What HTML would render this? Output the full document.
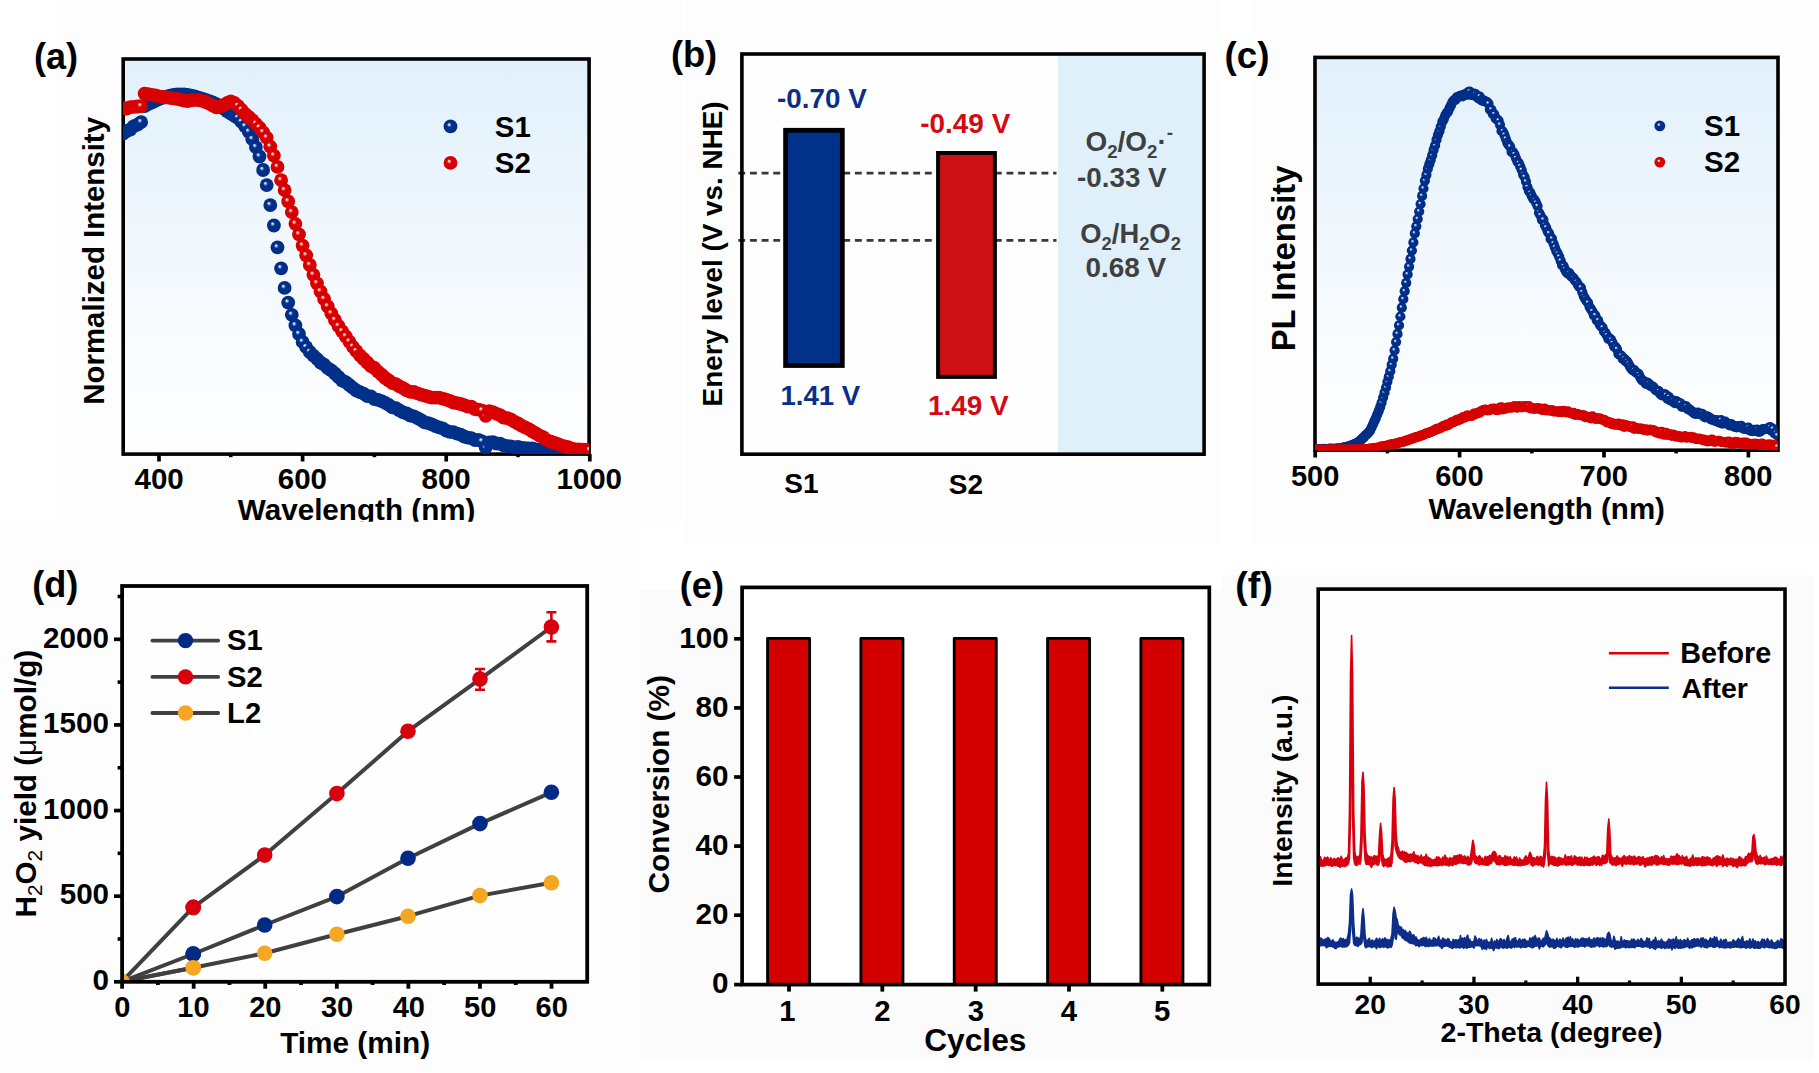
<!DOCTYPE html>
<html><head><meta charset="utf-8"><title>Figure</title>
<style>
html,body{margin:0;padding:0;background:#fff;}
body{width:1819px;height:1073px;overflow:hidden;font-family:"Liberation Sans",sans-serif;}
svg{display:block;font-family:"Liberation Sans",sans-serif;}
</style></head><body>
<svg width="1819" height="1073" viewBox="0 0 1819 1073">
<defs>
<linearGradient id="bgA" x1="0" y1="0" x2="0" y2="1"><stop offset="0" stop-color="#e2f0fb"/><stop offset="0.25" stop-color="#e9f4fc"/><stop offset="0.5" stop-color="#f2f8fd"/><stop offset="0.75" stop-color="#f9fcfe"/><stop offset="1" stop-color="#fefefe"/></linearGradient>
<radialGradient id="sB" cx="0.5" cy="0.5" r="0.5" fx="0.38" fy="0.35"><stop offset="0" stop-color="#ffffff"/><stop offset="0.1" stop-color="#c3cde8"/><stop offset="0.34" stop-color="#01318c"/><stop offset="1" stop-color="#002c84"/></radialGradient>
<radialGradient id="sR" cx="0.5" cy="0.5" r="0.5" fx="0.38" fy="0.35"><stop offset="0" stop-color="#ffffff"/><stop offset="0.1" stop-color="#f8c4c4"/><stop offset="0.34" stop-color="#db0003"/><stop offset="1" stop-color="#d40000"/></radialGradient>
<circle id="dB" r="6.9" fill="url(#sB)"/>
<circle id="dR" r="6.9" fill="url(#sR)"/>
<circle id="cB" r="5.1" fill="url(#sB)"/>
<circle id="cR" r="5.1" fill="url(#sR)"/>
<clipPath id="clipA"><rect x="123.2" y="59" width="465.9" height="395.1"/></clipPath>
<clipPath id="clipTop"><rect x="0" y="0" width="1819" height="521.8"/></clipPath>
<clipPath id="clipC"><rect x="1315.0" y="57.4" width="463.0" height="392.8"/></clipPath>
<clipPath id="clipF"><rect x="1318" y="589" width="467" height="395"/></clipPath>
</defs>
<rect x="0.00" y="0.00" width="1819.00" height="1073.00" fill="#ffffff" stroke="none" stroke-width="0" />
<rect x="56.00" y="0.00" width="625.50" height="522.50" fill="#fdfdfd" stroke="none" stroke-width="0" />
<rect x="684.50" y="0.00" width="535.50" height="545.60" fill="#fdfdfd" stroke="none" stroke-width="0" />
<rect x="1253.00" y="0.00" width="566.00" height="545.60" fill="#fdfdfd" stroke="none" stroke-width="0" />
<rect x="0.00" y="522.50" width="641.00" height="551.00" fill="#fdfdfd" stroke="none" stroke-width="0" />
<rect x="641.00" y="590.00" width="580.00" height="470.00" fill="#fbfbfb" stroke="none" stroke-width="0" />
<rect x="1222.00" y="575.00" width="592.00" height="485.00" fill="#fbfbfb" stroke="none" stroke-width="0" />
<rect x="123.20" y="59.00" width="465.90" height="395.10" fill="url(#bgA)" stroke="none" stroke-width="0" />
<rect x="123.20" y="59.00" width="465.90" height="395.10" fill="none" stroke="#000" stroke-width="3.6" />
<g clip-path="url(#clipA)">
<circle cx="123.1" cy="133.7" r="6.9" fill="#01308a"/>
<circle cx="126.7" cy="131.1" r="6.9" fill="#01308a"/>
<circle cx="130.3" cy="129.5" r="6.9" fill="#01308a"/>
<circle cx="133.9" cy="126.2" r="6.9" fill="#01308a"/>
<circle cx="137.5" cy="124.6" r="6.9" fill="#01308a"/>
<use href="#dB" x="141.1" y="122.2"/>
<use href="#dB" x="144.6" y="106.0"/>
<circle cx="148.2" cy="104.0" r="6.9" fill="#01308a"/>
<circle cx="151.8" cy="102.6" r="6.9" fill="#01308a"/>
<circle cx="155.4" cy="100.8" r="6.9" fill="#01308a"/>
<circle cx="159.0" cy="99.2" r="6.9" fill="#01308a"/>
<circle cx="162.6" cy="97.8" r="6.9" fill="#01308a"/>
<circle cx="166.2" cy="96.6" r="6.9" fill="#01308a"/>
<circle cx="169.8" cy="95.6" r="6.9" fill="#01308a"/>
<circle cx="173.4" cy="94.9" r="6.9" fill="#01308a"/>
<circle cx="176.9" cy="94.5" r="6.9" fill="#01308a"/>
<circle cx="180.5" cy="94.3" r="6.9" fill="#01308a"/>
<circle cx="184.1" cy="94.5" r="6.9" fill="#01308a"/>
<circle cx="187.7" cy="95.0" r="6.9" fill="#01308a"/>
<circle cx="191.3" cy="95.7" r="6.9" fill="#01308a"/>
<circle cx="194.9" cy="96.5" r="6.9" fill="#01308a"/>
<circle cx="198.5" cy="97.6" r="6.9" fill="#01308a"/>
<circle cx="202.1" cy="98.7" r="6.9" fill="#01308a"/>
<circle cx="205.7" cy="99.9" r="6.9" fill="#01308a"/>
<circle cx="209.3" cy="101.1" r="6.9" fill="#01308a"/>
<circle cx="212.8" cy="102.4" r="6.9" fill="#01308a"/>
<circle cx="216.4" cy="104.2" r="6.9" fill="#01308a"/>
<circle cx="220.0" cy="106.0" r="6.9" fill="#01308a"/>
<circle cx="223.6" cy="108.7" r="6.9" fill="#01308a"/>
<circle cx="227.2" cy="111.3" r="6.9" fill="#01308a"/>
<circle cx="230.8" cy="113.6" r="6.9" fill="#01308a"/>
<circle cx="234.4" cy="115.8" r="6.9" fill="#01308a"/>
<use href="#dB" x="238.0" y="118.0"/>
<use href="#dB" x="241.6" y="121.9"/>
<use href="#dB" x="245.2" y="126.4"/>
<use href="#dB" x="248.8" y="131.8"/>
<use href="#dB" x="252.3" y="139.2"/>
<use href="#dB" x="255.9" y="147.1"/>
<use href="#dB" x="259.5" y="156.5"/>
<use href="#dB" x="263.1" y="170.0"/>
<use href="#dB" x="266.7" y="185.1"/>
<use href="#dB" x="270.3" y="205.1"/>
<use href="#dB" x="273.9" y="225.5"/>
<use href="#dB" x="277.5" y="247.4"/>
<use href="#dB" x="281.1" y="268.3"/>
<use href="#dB" x="284.6" y="287.9"/>
<use href="#dB" x="288.2" y="302.6"/>
<use href="#dB" x="291.8" y="314.8"/>
<use href="#dB" x="295.4" y="325.4"/>
<use href="#dB" x="299.0" y="334.0"/>
<use href="#dB" x="302.6" y="341.9"/>
<use href="#dB" x="306.2" y="347.2"/>
<use href="#dB" x="309.8" y="352.0"/>
<circle cx="313.4" cy="355.7" r="6.9" fill="#01308a"/>
<circle cx="317.0" cy="358.8" r="6.9" fill="#01308a"/>
<circle cx="320.5" cy="362.5" r="6.9" fill="#01308a"/>
<circle cx="324.1" cy="364.6" r="6.9" fill="#01308a"/>
<circle cx="327.7" cy="368.1" r="6.9" fill="#01308a"/>
<circle cx="331.3" cy="370.4" r="6.9" fill="#01308a"/>
<circle cx="334.9" cy="373.5" r="6.9" fill="#01308a"/>
<circle cx="338.5" cy="377.0" r="6.9" fill="#01308a"/>
<circle cx="342.1" cy="380.5" r="6.9" fill="#01308a"/>
<circle cx="345.7" cy="382.1" r="6.9" fill="#01308a"/>
<circle cx="349.3" cy="385.0" r="6.9" fill="#01308a"/>
<circle cx="352.9" cy="387.9" r="6.9" fill="#01308a"/>
<circle cx="356.4" cy="390.5" r="6.9" fill="#01308a"/>
<circle cx="360.0" cy="392.1" r="6.9" fill="#01308a"/>
<circle cx="363.6" cy="393.6" r="6.9" fill="#01308a"/>
<circle cx="367.2" cy="396.2" r="6.9" fill="#01308a"/>
<circle cx="370.8" cy="396.4" r="6.9" fill="#01308a"/>
<circle cx="374.4" cy="399.2" r="6.9" fill="#01308a"/>
<circle cx="378.0" cy="399.9" r="6.9" fill="#01308a"/>
<circle cx="381.6" cy="401.2" r="6.9" fill="#01308a"/>
<circle cx="385.2" cy="402.8" r="6.9" fill="#01308a"/>
<circle cx="388.8" cy="404.9" r="6.9" fill="#01308a"/>
<circle cx="392.4" cy="407.4" r="6.9" fill="#01308a"/>
<circle cx="395.9" cy="408.1" r="6.9" fill="#01308a"/>
<circle cx="399.5" cy="410.4" r="6.9" fill="#01308a"/>
<circle cx="403.1" cy="412.3" r="6.9" fill="#01308a"/>
<circle cx="406.7" cy="413.5" r="6.9" fill="#01308a"/>
<circle cx="410.3" cy="415.5" r="6.9" fill="#01308a"/>
<circle cx="413.9" cy="416.4" r="6.9" fill="#01308a"/>
<circle cx="417.5" cy="418.1" r="6.9" fill="#01308a"/>
<circle cx="421.1" cy="420.1" r="6.9" fill="#01308a"/>
<circle cx="424.7" cy="422.3" r="6.9" fill="#01308a"/>
<circle cx="428.2" cy="423.2" r="6.9" fill="#01308a"/>
<circle cx="431.8" cy="424.4" r="6.9" fill="#01308a"/>
<circle cx="435.4" cy="426.2" r="6.9" fill="#01308a"/>
<circle cx="439.0" cy="427.3" r="6.9" fill="#01308a"/>
<circle cx="442.6" cy="428.4" r="6.9" fill="#01308a"/>
<circle cx="446.2" cy="430.6" r="6.9" fill="#01308a"/>
<circle cx="449.8" cy="431.8" r="6.9" fill="#01308a"/>
<circle cx="453.4" cy="432.1" r="6.9" fill="#01308a"/>
<circle cx="457.0" cy="433.7" r="6.9" fill="#01308a"/>
<circle cx="460.6" cy="434.6" r="6.9" fill="#01308a"/>
<circle cx="464.1" cy="436.5" r="6.9" fill="#01308a"/>
<circle cx="467.7" cy="437.6" r="6.9" fill="#01308a"/>
<circle cx="471.3" cy="438.1" r="6.9" fill="#01308a"/>
<circle cx="474.9" cy="440.2" r="6.9" fill="#01308a"/>
<circle cx="478.5" cy="439.8" r="6.9" fill="#01308a"/>
<use href="#dB" x="482.1" y="441.4"/>
<use href="#dB" x="485.7" y="447.7"/>
<circle cx="489.3" cy="442.4" r="6.9" fill="#01308a"/>
<circle cx="492.9" cy="442.2" r="6.9" fill="#01308a"/>
<circle cx="496.5" cy="443.5" r="6.9" fill="#01308a"/>
<circle cx="500.1" cy="443.6" r="6.9" fill="#01308a"/>
<circle cx="503.6" cy="445.3" r="6.9" fill="#01308a"/>
<circle cx="507.2" cy="446.1" r="6.9" fill="#01308a"/>
<circle cx="510.8" cy="446.4" r="6.9" fill="#01308a"/>
<circle cx="514.4" cy="447.4" r="6.9" fill="#01308a"/>
<circle cx="518.0" cy="446.9" r="6.9" fill="#01308a"/>
<circle cx="521.6" cy="448.0" r="6.9" fill="#01308a"/>
<circle cx="525.2" cy="448.1" r="6.9" fill="#01308a"/>
<circle cx="528.8" cy="448.4" r="6.9" fill="#01308a"/>
<circle cx="532.4" cy="448.5" r="6.9" fill="#01308a"/>
<circle cx="536.0" cy="449.4" r="6.9" fill="#01308a"/>
<circle cx="539.5" cy="449.9" r="6.9" fill="#01308a"/>
<circle cx="543.1" cy="449.5" r="6.9" fill="#01308a"/>
<circle cx="546.7" cy="450.2" r="6.9" fill="#01308a"/>
<circle cx="550.3" cy="449.9" r="6.9" fill="#01308a"/>
<circle cx="553.9" cy="450.7" r="6.9" fill="#01308a"/>
<circle cx="557.5" cy="450.9" r="6.9" fill="#01308a"/>
<circle cx="561.1" cy="451.4" r="6.9" fill="#01308a"/>
<circle cx="564.7" cy="451.4" r="6.9" fill="#01308a"/>
<circle cx="568.3" cy="451.2" r="6.9" fill="#01308a"/>
<circle cx="571.8" cy="451.5" r="6.9" fill="#01308a"/>
<circle cx="575.4" cy="451.9" r="6.9" fill="#01308a"/>
<circle cx="579.0" cy="451.6" r="6.9" fill="#01308a"/>
<circle cx="582.6" cy="452.1" r="6.9" fill="#01308a"/>
<circle cx="586.2" cy="452.1" r="6.9" fill="#01308a"/>
<use href="#dB" x="589.8" y="452.2"/>
<circle cx="123.1" cy="108.0" r="6.9" fill="#d90002"/>
<circle cx="126.7" cy="108.6" r="6.9" fill="#d90002"/>
<circle cx="130.3" cy="107.1" r="6.9" fill="#d90002"/>
<circle cx="133.9" cy="106.8" r="6.9" fill="#d90002"/>
<circle cx="137.5" cy="106.5" r="6.9" fill="#d90002"/>
<use href="#dR" x="141.1" y="106.2"/>
<use href="#dR" x="144.6" y="93.6"/>
<circle cx="148.2" cy="94.1" r="6.9" fill="#d90002"/>
<circle cx="151.8" cy="94.8" r="6.9" fill="#d90002"/>
<circle cx="155.4" cy="95.5" r="6.9" fill="#d90002"/>
<circle cx="159.0" cy="96.3" r="6.9" fill="#d90002"/>
<circle cx="162.6" cy="96.9" r="6.9" fill="#d90002"/>
<circle cx="166.2" cy="97.3" r="6.9" fill="#d90002"/>
<circle cx="169.8" cy="97.8" r="6.9" fill="#d90002"/>
<circle cx="173.4" cy="98.3" r="6.9" fill="#d90002"/>
<circle cx="176.9" cy="98.9" r="6.9" fill="#d90002"/>
<circle cx="180.5" cy="99.7" r="6.9" fill="#d90002"/>
<circle cx="184.1" cy="100.5" r="6.9" fill="#d90002"/>
<circle cx="187.7" cy="101.0" r="6.9" fill="#d90002"/>
<circle cx="191.3" cy="100.4" r="6.9" fill="#d90002"/>
<circle cx="194.9" cy="99.9" r="6.9" fill="#d90002"/>
<circle cx="198.5" cy="100.1" r="6.9" fill="#d90002"/>
<circle cx="202.1" cy="100.8" r="6.9" fill="#d90002"/>
<circle cx="205.7" cy="102.0" r="6.9" fill="#d90002"/>
<circle cx="209.3" cy="103.6" r="6.9" fill="#d90002"/>
<circle cx="212.8" cy="105.7" r="6.9" fill="#d90002"/>
<circle cx="216.4" cy="107.4" r="6.9" fill="#d90002"/>
<circle cx="220.0" cy="106.6" r="6.9" fill="#d90002"/>
<circle cx="223.6" cy="105.0" r="6.9" fill="#d90002"/>
<circle cx="227.2" cy="103.0" r="6.9" fill="#d90002"/>
<circle cx="230.8" cy="101.4" r="6.9" fill="#d90002"/>
<circle cx="234.4" cy="102.9" r="6.9" fill="#d90002"/>
<use href="#dR" x="238.0" y="105.9"/>
<use href="#dR" x="241.6" y="109.8"/>
<circle cx="245.2" cy="113.9" r="6.9" fill="#d90002"/>
<circle cx="248.8" cy="117.0" r="6.9" fill="#d90002"/>
<circle cx="252.3" cy="120.1" r="6.9" fill="#d90002"/>
<use href="#dR" x="255.9" y="123.8"/>
<use href="#dR" x="259.5" y="127.7"/>
<use href="#dR" x="263.1" y="132.3"/>
<use href="#dR" x="266.7" y="137.6"/>
<use href="#dR" x="270.3" y="146.6"/>
<use href="#dR" x="273.9" y="155.6"/>
<use href="#dR" x="277.5" y="166.9"/>
<use href="#dR" x="281.1" y="180.2"/>
<use href="#dR" x="284.6" y="190.1"/>
<use href="#dR" x="288.2" y="201.4"/>
<use href="#dR" x="291.8" y="212.1"/>
<use href="#dR" x="295.4" y="223.8"/>
<use href="#dR" x="299.0" y="234.4"/>
<use href="#dR" x="302.6" y="245.6"/>
<use href="#dR" x="306.2" y="255.3"/>
<use href="#dR" x="309.8" y="265.0"/>
<use href="#dR" x="313.4" y="274.8"/>
<use href="#dR" x="317.0" y="283.3"/>
<use href="#dR" x="320.5" y="291.4"/>
<use href="#dR" x="324.1" y="299.0"/>
<use href="#dR" x="327.7" y="306.4"/>
<use href="#dR" x="331.3" y="313.4"/>
<use href="#dR" x="334.9" y="320.0"/>
<use href="#dR" x="338.5" y="326.0"/>
<use href="#dR" x="342.1" y="331.3"/>
<use href="#dR" x="345.7" y="336.3"/>
<use href="#dR" x="349.3" y="341.6"/>
<use href="#dR" x="352.9" y="346.8"/>
<use href="#dR" x="356.4" y="351.2"/>
<circle cx="360.0" cy="355.3" r="6.9" fill="#d90002"/>
<circle cx="363.6" cy="359.0" r="6.9" fill="#d90002"/>
<circle cx="367.2" cy="362.5" r="6.9" fill="#d90002"/>
<circle cx="370.8" cy="366.2" r="6.9" fill="#d90002"/>
<circle cx="374.4" cy="368.0" r="6.9" fill="#d90002"/>
<circle cx="378.0" cy="371.6" r="6.9" fill="#d90002"/>
<circle cx="381.6" cy="374.7" r="6.9" fill="#d90002"/>
<circle cx="385.2" cy="378.0" r="6.9" fill="#d90002"/>
<circle cx="388.8" cy="380.5" r="6.9" fill="#d90002"/>
<circle cx="392.4" cy="383.2" r="6.9" fill="#d90002"/>
<circle cx="395.9" cy="384.2" r="6.9" fill="#d90002"/>
<circle cx="399.5" cy="386.4" r="6.9" fill="#d90002"/>
<circle cx="403.1" cy="388.1" r="6.9" fill="#d90002"/>
<circle cx="406.7" cy="390.4" r="6.9" fill="#d90002"/>
<circle cx="410.3" cy="391.9" r="6.9" fill="#d90002"/>
<circle cx="413.9" cy="392.0" r="6.9" fill="#d90002"/>
<circle cx="417.5" cy="393.3" r="6.9" fill="#d90002"/>
<circle cx="421.1" cy="394.7" r="6.9" fill="#d90002"/>
<circle cx="424.7" cy="395.6" r="6.9" fill="#d90002"/>
<circle cx="428.2" cy="396.7" r="6.9" fill="#d90002"/>
<circle cx="431.8" cy="397.6" r="6.9" fill="#d90002"/>
<circle cx="435.4" cy="397.6" r="6.9" fill="#d90002"/>
<circle cx="439.0" cy="397.6" r="6.9" fill="#d90002"/>
<circle cx="442.6" cy="398.7" r="6.9" fill="#d90002"/>
<circle cx="446.2" cy="399.6" r="6.9" fill="#d90002"/>
<circle cx="449.8" cy="400.9" r="6.9" fill="#d90002"/>
<circle cx="453.4" cy="402.5" r="6.9" fill="#d90002"/>
<circle cx="457.0" cy="403.2" r="6.9" fill="#d90002"/>
<circle cx="460.6" cy="404.0" r="6.9" fill="#d90002"/>
<circle cx="464.1" cy="405.2" r="6.9" fill="#d90002"/>
<circle cx="467.7" cy="406.5" r="6.9" fill="#d90002"/>
<circle cx="471.3" cy="406.7" r="6.9" fill="#d90002"/>
<circle cx="474.9" cy="409.1" r="6.9" fill="#d90002"/>
<circle cx="478.5" cy="409.7" r="6.9" fill="#d90002"/>
<use href="#dR" x="482.1" y="410.6"/>
<use href="#dR" x="485.7" y="415.8"/>
<circle cx="489.3" cy="411.1" r="6.9" fill="#d90002"/>
<circle cx="492.9" cy="412.2" r="6.9" fill="#d90002"/>
<circle cx="496.5" cy="413.9" r="6.9" fill="#d90002"/>
<circle cx="500.1" cy="415.2" r="6.9" fill="#d90002"/>
<circle cx="503.6" cy="417.6" r="6.9" fill="#d90002"/>
<circle cx="507.2" cy="418.1" r="6.9" fill="#d90002"/>
<circle cx="510.8" cy="419.5" r="6.9" fill="#d90002"/>
<circle cx="514.4" cy="421.6" r="6.9" fill="#d90002"/>
<circle cx="518.0" cy="423.5" r="6.9" fill="#d90002"/>
<circle cx="521.6" cy="425.7" r="6.9" fill="#d90002"/>
<circle cx="525.2" cy="427.3" r="6.9" fill="#d90002"/>
<circle cx="528.8" cy="429.2" r="6.9" fill="#d90002"/>
<circle cx="532.4" cy="431.4" r="6.9" fill="#d90002"/>
<circle cx="536.0" cy="433.3" r="6.9" fill="#d90002"/>
<circle cx="539.5" cy="435.7" r="6.9" fill="#d90002"/>
<circle cx="543.1" cy="437.1" r="6.9" fill="#d90002"/>
<circle cx="546.7" cy="440.2" r="6.9" fill="#d90002"/>
<circle cx="550.3" cy="441.5" r="6.9" fill="#d90002"/>
<circle cx="553.9" cy="442.7" r="6.9" fill="#d90002"/>
<circle cx="557.5" cy="444.0" r="6.9" fill="#d90002"/>
<circle cx="561.1" cy="445.4" r="6.9" fill="#d90002"/>
<circle cx="564.7" cy="446.5" r="6.9" fill="#d90002"/>
<circle cx="568.3" cy="447.2" r="6.9" fill="#d90002"/>
<circle cx="571.8" cy="448.7" r="6.9" fill="#d90002"/>
<circle cx="575.4" cy="449.4" r="6.9" fill="#d90002"/>
<circle cx="579.0" cy="449.3" r="6.9" fill="#d90002"/>
<circle cx="582.6" cy="449.7" r="6.9" fill="#d90002"/>
<circle cx="586.2" cy="449.8" r="6.9" fill="#d90002"/>
<use href="#dR" x="589.8" y="450.2"/>
</g>
<line x1="159.00" y1="454.10" x2="159.00" y2="461.50" stroke="#000" stroke-width="3.7" />
<line x1="302.60" y1="454.10" x2="302.60" y2="461.50" stroke="#000" stroke-width="3.7" />
<line x1="446.20" y1="454.10" x2="446.20" y2="461.50" stroke="#000" stroke-width="3.7" />
<line x1="589.80" y1="454.10" x2="589.80" y2="461.50" stroke="#000" stroke-width="3.7" />
<line x1="230.80" y1="454.10" x2="230.80" y2="457.20" stroke="#000" stroke-width="3.6" />
<line x1="374.40" y1="454.10" x2="374.40" y2="457.20" stroke="#000" stroke-width="3.6" />
<line x1="518.00" y1="454.10" x2="518.00" y2="457.20" stroke="#000" stroke-width="3.6" />
<g clip-path="url(#clipTop)">
<text x="134.51" y="489.38" font-size="29.50" font-weight="bold" fill="#000">400</text>
<text x="277.81" y="489.38" font-size="29.50" font-weight="bold" fill="#000">600</text>
<text x="421.49" y="489.38" font-size="29.50" font-weight="bold" fill="#000">800</text>
<text x="556.39" y="489.38" font-size="29.50" font-weight="bold" fill="#000">1000</text>
<text x="237.80" y="519.73" font-size="29.65" font-weight="bold" fill="#000">Wavelength (nm)</text>
</g>
<text transform="translate(103.60,404.71) rotate(-90)" font-size="29.43" font-weight="bold" fill="#000">Normalized Intensity</text>
<text x="34.00" y="69.30" font-size="36.00" font-weight="bold" fill="#000">(a)</text>
<use href="#dB" x="450.5" y="126.4"/><use href="#dR" x="450.5" y="162.9"/>
<text x="494.72" y="137.08" font-size="29.50" font-weight="bold" fill="#000">S1</text>
<text x="494.72" y="173.18" font-size="29.50" font-weight="bold" fill="#000">S2</text>
<rect x="741.90" y="54.00" width="462.20" height="400.20" fill="#fefefe" stroke="none" stroke-width="0" />
<rect x="1057.90" y="54.00" width="146.20" height="400.20" fill="#e0f0fb" stroke="none" stroke-width="0" />
<line x1="738.30" y1="173.10" x2="1056.50" y2="173.10" stroke="#383838" stroke-width="2.8" stroke-dasharray="6.9 4.76"/>
<line x1="738.30" y1="240.40" x2="1056.50" y2="240.40" stroke="#383838" stroke-width="2.8" stroke-dasharray="6.9 4.76"/>
<rect x="785.60" y="130.30" width="56.70" height="235.20" fill="#01328a" stroke="#000" stroke-width="4.8" />
<rect x="938.10" y="153.00" width="56.80" height="223.90" fill="#cd1013" stroke="#000" stroke-width="4.0" />
<rect x="741.90" y="54.00" width="462.20" height="400.20" fill="none" stroke="#000" stroke-width="3.6" />
<text x="776.99" y="108.41" font-size="27.84" font-weight="bold" fill="#0b2f88">-0.70 V</text>
<text x="780.44" y="405.23" font-size="27.61" font-weight="bold" fill="#0b2f88">1.41 V</text>
<text x="920.28" y="133.03" font-size="27.91" font-weight="bold" fill="#d40a12">-0.49 V</text>
<text x="927.92" y="414.75" font-size="27.96" font-weight="bold" fill="#d40a12">1.49 V</text>
<text x="1077.09" y="186.57" font-size="27.75" font-weight="bold" fill="#404040">-0.33 V</text>
<text x="1085.48" y="277.33" font-size="27.91" font-weight="bold" fill="#404040">0.68 V</text>
<text x="784.36" y="492.86" font-size="28.00" font-weight="bold" fill="#000">S1</text>
<text x="948.86" y="493.66" font-size="28.00" font-weight="bold" fill="#000">S2</text>
<text x="670.89" y="67.40" font-size="36.27" font-weight="bold" fill="#000">(b)</text>
<text transform="translate(721.62,406.41) rotate(-90)" font-size="27.87" font-weight="bold" fill="#000">Enery level (V vs. NHE)</text>
<rect x="1315.00" y="57.40" width="463.00" height="392.80" fill="url(#bgA)" stroke="none" stroke-width="0" />
<rect x="1315.00" y="57.40" width="463.00" height="392.80" fill="none" stroke="#000" stroke-width="3.6" />
<g clip-path="url(#clipC)">
<use href="#cB" x="1315.2" y="449.3"/>
<use href="#cB" x="1316.6" y="449.3"/>
<use href="#cB" x="1318.1" y="449.5"/>
<use href="#cB" x="1319.5" y="449.2"/>
<use href="#cB" x="1321.0" y="449.2"/>
<use href="#cB" x="1322.4" y="449.2"/>
<use href="#cB" x="1323.9" y="448.9"/>
<use href="#cB" x="1325.3" y="449.0"/>
<use href="#cB" x="1326.8" y="449.1"/>
<use href="#cB" x="1328.2" y="449.1"/>
<use href="#cB" x="1329.6" y="448.7"/>
<use href="#cB" x="1331.1" y="448.8"/>
<use href="#cB" x="1332.5" y="448.6"/>
<use href="#cB" x="1334.0" y="449.0"/>
<use href="#cB" x="1335.4" y="448.9"/>
<use href="#cB" x="1336.9" y="448.3"/>
<use href="#cB" x="1338.3" y="448.7"/>
<use href="#cB" x="1339.7" y="448.5"/>
<use href="#cB" x="1341.2" y="448.1"/>
<use href="#cB" x="1342.6" y="447.9"/>
<use href="#cB" x="1344.1" y="447.4"/>
<use href="#cB" x="1345.5" y="447.1"/>
<use href="#cB" x="1347.0" y="447.0"/>
<use href="#cB" x="1348.4" y="446.3"/>
<use href="#cB" x="1349.9" y="445.9"/>
<use href="#cB" x="1351.3" y="445.5"/>
<use href="#cB" x="1352.7" y="444.8"/>
<use href="#cB" x="1354.2" y="444.4"/>
<use href="#cB" x="1355.6" y="443.6"/>
<use href="#cB" x="1357.1" y="443.2"/>
<use href="#cB" x="1358.5" y="442.0"/>
<use href="#cB" x="1360.0" y="440.8"/>
<use href="#cB" x="1361.4" y="439.4"/>
<use href="#cB" x="1362.9" y="438.2"/>
<use href="#cB" x="1364.3" y="436.7"/>
<use href="#cB" x="1365.7" y="435.1"/>
<use href="#cB" x="1367.2" y="434.0"/>
<use href="#cB" x="1368.6" y="432.4"/>
<use href="#cB" x="1370.1" y="430.6"/>
<use href="#cB" x="1371.5" y="427.6"/>
<use href="#cB" x="1373.0" y="424.3"/>
<use href="#cB" x="1374.4" y="421.2"/>
<use href="#cB" x="1375.8" y="418.2"/>
<use href="#cB" x="1377.3" y="414.3"/>
<use href="#cB" x="1378.7" y="410.9"/>
<use href="#cB" x="1380.2" y="406.9"/>
<use href="#cB" x="1381.6" y="402.7"/>
<use href="#cB" x="1383.1" y="397.5"/>
<use href="#cB" x="1384.5" y="392.7"/>
<use href="#cB" x="1386.0" y="387.5"/>
<use href="#cB" x="1387.4" y="381.8"/>
<use href="#cB" x="1388.8" y="376.7"/>
<use href="#cB" x="1390.3" y="371.2"/>
<use href="#cB" x="1391.7" y="364.7"/>
<use href="#cB" x="1393.2" y="358.7"/>
<use href="#cB" x="1394.6" y="350.4"/>
<use href="#cB" x="1396.1" y="342.0"/>
<use href="#cB" x="1397.5" y="333.9"/>
<use href="#cB" x="1399.0" y="325.4"/>
<use href="#cB" x="1400.4" y="316.5"/>
<use href="#cB" x="1401.8" y="307.7"/>
<use href="#cB" x="1403.3" y="299.2"/>
<use href="#cB" x="1404.7" y="291.2"/>
<use href="#cB" x="1406.2" y="282.9"/>
<use href="#cB" x="1407.6" y="274.4"/>
<use href="#cB" x="1409.1" y="266.7"/>
<use href="#cB" x="1410.5" y="258.9"/>
<use href="#cB" x="1411.9" y="250.6"/>
<use href="#cB" x="1413.4" y="242.4"/>
<use href="#cB" x="1414.8" y="233.4"/>
<use href="#cB" x="1416.3" y="226.3"/>
<use href="#cB" x="1417.7" y="219.0"/>
<use href="#cB" x="1419.2" y="211.5"/>
<use href="#cB" x="1420.6" y="204.0"/>
<use href="#cB" x="1422.1" y="195.9"/>
<use href="#cB" x="1423.5" y="188.5"/>
<use href="#cB" x="1424.9" y="180.7"/>
<use href="#cB" x="1426.4" y="174.9"/>
<use href="#cB" x="1427.8" y="168.8"/>
<use href="#cB" x="1429.3" y="164.2"/>
<use href="#cB" x="1430.7" y="160.0"/>
<use href="#cB" x="1432.2" y="155.2"/>
<use href="#cB" x="1433.6" y="149.9"/>
<use href="#cB" x="1435.1" y="145.4"/>
<use href="#cB" x="1436.5" y="139.7"/>
<use href="#cB" x="1437.9" y="135.0"/>
<use href="#cB" x="1439.4" y="131.2"/>
<use href="#cB" x="1440.8" y="126.6"/>
<use href="#cB" x="1442.3" y="121.8"/>
<use href="#cB" x="1443.7" y="119.3"/>
<use href="#cB" x="1445.2" y="115.5"/>
<use href="#cB" x="1446.6" y="113.1"/>
<use href="#cB" x="1448.0" y="111.7"/>
<use href="#cB" x="1449.5" y="108.2"/>
<use href="#cB" x="1450.9" y="105.4"/>
<use href="#cB" x="1452.4" y="102.1"/>
<use href="#cB" x="1453.8" y="100.3"/>
<use href="#cB" x="1455.3" y="99.9"/>
<use href="#cB" x="1456.7" y="97.4"/>
<use href="#cB" x="1458.2" y="97.2"/>
<use href="#cB" x="1459.6" y="96.0"/>
<use href="#cB" x="1461.0" y="95.6"/>
<use href="#cB" x="1462.5" y="96.5"/>
<use href="#cB" x="1463.9" y="94.5"/>
<use href="#cB" x="1465.4" y="94.3"/>
<use href="#cB" x="1466.8" y="94.8"/>
<use href="#cB" x="1468.3" y="92.1"/>
<use href="#cB" x="1469.7" y="91.6"/>
<use href="#cB" x="1471.2" y="94.9"/>
<use href="#cB" x="1472.6" y="95.2"/>
<use href="#cB" x="1474.0" y="93.7"/>
<use href="#cB" x="1475.5" y="94.1"/>
<use href="#cB" x="1476.9" y="96.7"/>
<use href="#cB" x="1478.4" y="98.3"/>
<use href="#cB" x="1479.8" y="96.5"/>
<use href="#cB" x="1481.3" y="100.1"/>
<use href="#cB" x="1482.7" y="100.8"/>
<use href="#cB" x="1484.1" y="100.6"/>
<use href="#cB" x="1485.6" y="101.6"/>
<use href="#cB" x="1487.0" y="102.1"/>
<use href="#cB" x="1488.5" y="103.6"/>
<use href="#cB" x="1489.9" y="109.6"/>
<use href="#cB" x="1491.4" y="109.6"/>
<use href="#cB" x="1492.8" y="113.9"/>
<use href="#cB" x="1494.3" y="114.3"/>
<use href="#cB" x="1495.7" y="118.4"/>
<use href="#cB" x="1497.1" y="119.6"/>
<use href="#cB" x="1498.6" y="120.6"/>
<use href="#cB" x="1500.0" y="124.8"/>
<use href="#cB" x="1501.5" y="131.0"/>
<use href="#cB" x="1502.9" y="131.5"/>
<use href="#cB" x="1504.4" y="134.9"/>
<use href="#cB" x="1505.8" y="138.8"/>
<use href="#cB" x="1507.3" y="142.8"/>
<use href="#cB" x="1508.7" y="144.9"/>
<use href="#cB" x="1510.1" y="146.6"/>
<use href="#cB" x="1511.6" y="151.9"/>
<use href="#cB" x="1513.0" y="152.2"/>
<use href="#cB" x="1514.5" y="154.3"/>
<use href="#cB" x="1515.9" y="158.1"/>
<use href="#cB" x="1517.4" y="161.6"/>
<use href="#cB" x="1518.8" y="163.1"/>
<use href="#cB" x="1520.2" y="166.4"/>
<use href="#cB" x="1521.7" y="170.0"/>
<use href="#cB" x="1523.1" y="174.6"/>
<use href="#cB" x="1524.6" y="177.0"/>
<use href="#cB" x="1526.0" y="181.6"/>
<use href="#cB" x="1527.5" y="187.1"/>
<use href="#cB" x="1528.9" y="191.0"/>
<use href="#cB" x="1530.4" y="192.9"/>
<use href="#cB" x="1531.8" y="196.1"/>
<use href="#cB" x="1533.2" y="198.8"/>
<use href="#cB" x="1534.7" y="200.1"/>
<use href="#cB" x="1536.1" y="202.8"/>
<use href="#cB" x="1537.6" y="206.1"/>
<use href="#cB" x="1539.0" y="212.7"/>
<use href="#cB" x="1540.5" y="215.3"/>
<use href="#cB" x="1541.9" y="219.7"/>
<use href="#cB" x="1543.4" y="219.6"/>
<use href="#cB" x="1544.8" y="225.0"/>
<use href="#cB" x="1546.2" y="227.6"/>
<use href="#cB" x="1547.7" y="231.6"/>
<use href="#cB" x="1549.1" y="233.3"/>
<use href="#cB" x="1550.6" y="238.9"/>
<use href="#cB" x="1552.0" y="238.7"/>
<use href="#cB" x="1553.5" y="243.6"/>
<use href="#cB" x="1554.9" y="247.4"/>
<use href="#cB" x="1556.3" y="251.1"/>
<use href="#cB" x="1557.8" y="253.7"/>
<use href="#cB" x="1559.2" y="256.8"/>
<use href="#cB" x="1560.7" y="260.9"/>
<use href="#cB" x="1562.1" y="265.2"/>
<use href="#cB" x="1563.6" y="266.2"/>
<use href="#cB" x="1565.0" y="269.4"/>
<use href="#cB" x="1566.5" y="272.2"/>
<use href="#cB" x="1567.9" y="273.6"/>
<use href="#cB" x="1569.3" y="273.1"/>
<use href="#cB" x="1570.8" y="275.7"/>
<use href="#cB" x="1572.2" y="277.2"/>
<use href="#cB" x="1573.7" y="278.3"/>
<use href="#cB" x="1575.1" y="280.7"/>
<use href="#cB" x="1576.6" y="282.0"/>
<use href="#cB" x="1578.0" y="284.9"/>
<use href="#cB" x="1579.5" y="287.2"/>
<use href="#cB" x="1580.9" y="287.5"/>
<use href="#cB" x="1582.3" y="292.2"/>
<use href="#cB" x="1583.8" y="296.3"/>
<use href="#cB" x="1585.2" y="298.8"/>
<use href="#cB" x="1586.7" y="301.2"/>
<use href="#cB" x="1588.1" y="302.8"/>
<use href="#cB" x="1589.6" y="307.0"/>
<use href="#cB" x="1591.0" y="309.2"/>
<use href="#cB" x="1592.4" y="311.3"/>
<use href="#cB" x="1593.9" y="315.4"/>
<use href="#cB" x="1595.3" y="315.3"/>
<use href="#cB" x="1596.8" y="320.3"/>
<use href="#cB" x="1598.2" y="320.4"/>
<use href="#cB" x="1599.7" y="324.6"/>
<use href="#cB" x="1601.1" y="326.3"/>
<use href="#cB" x="1602.6" y="327.6"/>
<use href="#cB" x="1604.0" y="331.5"/>
<use href="#cB" x="1605.4" y="332.9"/>
<use href="#cB" x="1606.9" y="335.5"/>
<use href="#cB" x="1608.3" y="338.8"/>
<use href="#cB" x="1609.8" y="338.5"/>
<use href="#cB" x="1611.2" y="339.8"/>
<use href="#cB" x="1612.7" y="343.1"/>
<use href="#cB" x="1614.1" y="346.6"/>
<use href="#cB" x="1615.6" y="347.1"/>
<use href="#cB" x="1617.0" y="349.1"/>
<use href="#cB" x="1618.4" y="354.0"/>
<use href="#cB" x="1619.9" y="354.9"/>
<use href="#cB" x="1621.3" y="355.8"/>
<use href="#cB" x="1622.8" y="359.0"/>
<use href="#cB" x="1624.2" y="358.6"/>
<use href="#cB" x="1625.7" y="361.4"/>
<use href="#cB" x="1627.1" y="361.3"/>
<use href="#cB" x="1628.5" y="363.8"/>
<use href="#cB" x="1630.0" y="366.7"/>
<use href="#cB" x="1631.4" y="368.8"/>
<use href="#cB" x="1632.9" y="370.3"/>
<use href="#cB" x="1634.3" y="370.1"/>
<use href="#cB" x="1635.8" y="372.5"/>
<use href="#cB" x="1637.2" y="373.2"/>
<use href="#cB" x="1638.7" y="374.2"/>
<use href="#cB" x="1640.1" y="377.1"/>
<use href="#cB" x="1641.5" y="379.6"/>
<use href="#cB" x="1643.0" y="380.9"/>
<use href="#cB" x="1644.4" y="381.6"/>
<use href="#cB" x="1645.9" y="383.8"/>
<use href="#cB" x="1647.3" y="382.6"/>
<use href="#cB" x="1648.8" y="383.5"/>
<use href="#cB" x="1650.2" y="385.8"/>
<use href="#cB" x="1651.7" y="386.1"/>
<use href="#cB" x="1653.1" y="386.9"/>
<use href="#cB" x="1654.5" y="388.6"/>
<use href="#cB" x="1656.0" y="390.3"/>
<use href="#cB" x="1657.4" y="390.8"/>
<use href="#cB" x="1658.9" y="391.2"/>
<use href="#cB" x="1660.3" y="394.0"/>
<use href="#cB" x="1661.8" y="395.5"/>
<use href="#cB" x="1663.2" y="394.6"/>
<use href="#cB" x="1664.6" y="394.2"/>
<use href="#cB" x="1666.1" y="395.0"/>
<use href="#cB" x="1667.5" y="399.0"/>
<use href="#cB" x="1669.0" y="397.0"/>
<use href="#cB" x="1670.4" y="400.4"/>
<use href="#cB" x="1671.9" y="400.8"/>
<use href="#cB" x="1673.3" y="400.6"/>
<use href="#cB" x="1674.8" y="403.1"/>
<use href="#cB" x="1676.2" y="401.1"/>
<use href="#cB" x="1677.6" y="402.2"/>
<use href="#cB" x="1679.1" y="404.2"/>
<use href="#cB" x="1680.5" y="403.4"/>
<use href="#cB" x="1682.0" y="407.0"/>
<use href="#cB" x="1683.4" y="405.6"/>
<use href="#cB" x="1684.9" y="406.0"/>
<use href="#cB" x="1686.3" y="406.4"/>
<use href="#cB" x="1687.8" y="409.2"/>
<use href="#cB" x="1689.2" y="409.2"/>
<use href="#cB" x="1690.6" y="410.6"/>
<use href="#cB" x="1692.1" y="411.4"/>
<use href="#cB" x="1693.5" y="412.6"/>
<use href="#cB" x="1695.0" y="413.9"/>
<use href="#cB" x="1696.4" y="413.6"/>
<use href="#cB" x="1697.9" y="412.5"/>
<use href="#cB" x="1699.3" y="414.2"/>
<use href="#cB" x="1700.7" y="413.8"/>
<use href="#cB" x="1702.2" y="413.8"/>
<use href="#cB" x="1703.6" y="416.1"/>
<use href="#cB" x="1705.1" y="417.5"/>
<use href="#cB" x="1706.5" y="416.0"/>
<use href="#cB" x="1708.0" y="416.9"/>
<use href="#cB" x="1709.4" y="417.7"/>
<use href="#cB" x="1710.9" y="419.4"/>
<use href="#cB" x="1712.3" y="419.3"/>
<use href="#cB" x="1713.7" y="420.1"/>
<use href="#cB" x="1715.2" y="421.0"/>
<use href="#cB" x="1716.6" y="420.1"/>
<use href="#cB" x="1718.1" y="421.9"/>
<use href="#cB" x="1719.5" y="422.7"/>
<use href="#cB" x="1721.0" y="420.1"/>
<use href="#cB" x="1722.4" y="423.6"/>
<use href="#cB" x="1723.9" y="423.2"/>
<use href="#cB" x="1725.3" y="421.5"/>
<use href="#cB" x="1726.7" y="423.0"/>
<use href="#cB" x="1728.2" y="424.1"/>
<use href="#cB" x="1729.6" y="425.5"/>
<use href="#cB" x="1731.1" y="424.0"/>
<use href="#cB" x="1732.5" y="425.1"/>
<use href="#cB" x="1734.0" y="426.6"/>
<use href="#cB" x="1735.4" y="426.6"/>
<use href="#cB" x="1736.8" y="427.5"/>
<use href="#cB" x="1738.3" y="426.2"/>
<use href="#cB" x="1739.7" y="427.2"/>
<use href="#cB" x="1741.2" y="425.9"/>
<use href="#cB" x="1742.6" y="428.2"/>
<use href="#cB" x="1744.1" y="428.9"/>
<use href="#cB" x="1745.5" y="428.5"/>
<use href="#cB" x="1747.0" y="429.1"/>
<use href="#cB" x="1748.4" y="427.6"/>
<use href="#cB" x="1749.8" y="430.3"/>
<use href="#cB" x="1751.3" y="430.9"/>
<use href="#cB" x="1752.7" y="431.2"/>
<use href="#cB" x="1754.2" y="429.9"/>
<use href="#cB" x="1755.6" y="431.0"/>
<use href="#cB" x="1757.1" y="429.5"/>
<use href="#cB" x="1758.5" y="431.8"/>
<use href="#cB" x="1760.0" y="431.7"/>
<use href="#cB" x="1761.4" y="430.0"/>
<use href="#cB" x="1762.8" y="429.1"/>
<use href="#cB" x="1764.3" y="429.5"/>
<use href="#cB" x="1765.7" y="429.0"/>
<use href="#cB" x="1767.2" y="428.9"/>
<use href="#cB" x="1768.6" y="427.9"/>
<use href="#cB" x="1770.1" y="427.1"/>
<use href="#cB" x="1771.5" y="430.7"/>
<use href="#cB" x="1772.9" y="428.8"/>
<use href="#cB" x="1774.4" y="433.3"/>
<use href="#cB" x="1775.8" y="433.0"/>
<use href="#cB" x="1777.3" y="435.5"/>
<use href="#cR" x="1315.2" y="450.0"/>
<use href="#cR" x="1316.6" y="449.6"/>
<use href="#cR" x="1318.1" y="449.6"/>
<use href="#cR" x="1319.5" y="449.8"/>
<use href="#cR" x="1321.0" y="449.9"/>
<use href="#cR" x="1322.4" y="450.0"/>
<use href="#cR" x="1323.9" y="449.9"/>
<use href="#cR" x="1325.3" y="450.0"/>
<use href="#cR" x="1326.8" y="449.7"/>
<use href="#cR" x="1328.2" y="450.0"/>
<use href="#cR" x="1329.6" y="449.5"/>
<use href="#cR" x="1331.1" y="449.5"/>
<use href="#cR" x="1332.5" y="449.7"/>
<use href="#cR" x="1334.0" y="449.6"/>
<use href="#cR" x="1335.4" y="449.8"/>
<use href="#cR" x="1336.9" y="449.7"/>
<use href="#cR" x="1338.3" y="449.7"/>
<use href="#cR" x="1339.7" y="449.9"/>
<use href="#cR" x="1341.2" y="449.7"/>
<use href="#cR" x="1342.6" y="449.5"/>
<use href="#cR" x="1344.1" y="449.5"/>
<use href="#cR" x="1345.5" y="449.8"/>
<use href="#cR" x="1347.0" y="449.8"/>
<use href="#cR" x="1348.4" y="449.4"/>
<use href="#cR" x="1349.9" y="449.8"/>
<use href="#cR" x="1351.3" y="449.9"/>
<use href="#cR" x="1352.7" y="449.6"/>
<use href="#cR" x="1354.2" y="449.6"/>
<use href="#cR" x="1355.6" y="449.4"/>
<use href="#cR" x="1357.1" y="449.6"/>
<use href="#cR" x="1358.5" y="449.5"/>
<use href="#cR" x="1360.0" y="449.6"/>
<use href="#cR" x="1361.4" y="449.2"/>
<use href="#cR" x="1362.9" y="449.8"/>
<use href="#cR" x="1364.3" y="449.3"/>
<use href="#cR" x="1365.7" y="449.1"/>
<use href="#cR" x="1367.2" y="449.2"/>
<use href="#cR" x="1368.6" y="448.8"/>
<use href="#cR" x="1370.1" y="448.6"/>
<use href="#cR" x="1371.5" y="448.6"/>
<use href="#cR" x="1373.0" y="448.0"/>
<use href="#cR" x="1374.4" y="448.1"/>
<use href="#cR" x="1375.8" y="447.8"/>
<use href="#cR" x="1377.3" y="447.8"/>
<use href="#cR" x="1378.7" y="447.5"/>
<use href="#cR" x="1380.2" y="446.8"/>
<use href="#cR" x="1381.6" y="446.6"/>
<use href="#cR" x="1383.1" y="446.1"/>
<use href="#cR" x="1384.5" y="446.0"/>
<use href="#cR" x="1386.0" y="445.9"/>
<use href="#cR" x="1387.4" y="445.7"/>
<use href="#cR" x="1388.8" y="445.1"/>
<use href="#cR" x="1390.3" y="444.7"/>
<use href="#cR" x="1391.7" y="444.3"/>
<use href="#cR" x="1393.2" y="444.2"/>
<use href="#cR" x="1394.6" y="444.1"/>
<use href="#cR" x="1396.1" y="443.3"/>
<use href="#cR" x="1397.5" y="443.4"/>
<use href="#cR" x="1399.0" y="442.6"/>
<use href="#cR" x="1400.4" y="442.4"/>
<use href="#cR" x="1401.8" y="442.0"/>
<use href="#cR" x="1403.3" y="441.8"/>
<use href="#cR" x="1404.7" y="441.1"/>
<use href="#cR" x="1406.2" y="440.6"/>
<use href="#cR" x="1407.6" y="440.4"/>
<use href="#cR" x="1409.1" y="439.5"/>
<use href="#cR" x="1410.5" y="439.5"/>
<use href="#cR" x="1411.9" y="438.5"/>
<use href="#cR" x="1413.4" y="438.4"/>
<use href="#cR" x="1414.8" y="437.7"/>
<use href="#cR" x="1416.3" y="437.1"/>
<use href="#cR" x="1417.7" y="436.9"/>
<use href="#cR" x="1419.2" y="436.3"/>
<use href="#cR" x="1420.6" y="435.7"/>
<use href="#cR" x="1422.1" y="435.3"/>
<use href="#cR" x="1423.5" y="434.9"/>
<use href="#cR" x="1424.9" y="434.0"/>
<use href="#cR" x="1426.4" y="433.4"/>
<use href="#cR" x="1427.8" y="433.2"/>
<use href="#cR" x="1429.3" y="432.6"/>
<use href="#cR" x="1430.7" y="431.8"/>
<use href="#cR" x="1432.2" y="431.5"/>
<use href="#cR" x="1433.6" y="430.6"/>
<use href="#cR" x="1435.1" y="430.2"/>
<use href="#cR" x="1436.5" y="428.8"/>
<use href="#cR" x="1437.9" y="428.8"/>
<use href="#cR" x="1439.4" y="428.3"/>
<use href="#cR" x="1440.8" y="427.8"/>
<use href="#cR" x="1442.3" y="426.5"/>
<use href="#cR" x="1443.7" y="425.9"/>
<use href="#cR" x="1445.2" y="426.2"/>
<use href="#cR" x="1446.6" y="424.6"/>
<use href="#cR" x="1448.0" y="425.1"/>
<use href="#cR" x="1449.5" y="424.4"/>
<use href="#cR" x="1450.9" y="422.6"/>
<use href="#cR" x="1452.4" y="422.1"/>
<use href="#cR" x="1453.8" y="422.2"/>
<use href="#cR" x="1455.3" y="420.9"/>
<use href="#cR" x="1456.7" y="419.9"/>
<use href="#cR" x="1458.2" y="420.5"/>
<use href="#cR" x="1459.6" y="419.2"/>
<use href="#cR" x="1461.0" y="419.1"/>
<use href="#cR" x="1462.5" y="417.4"/>
<use href="#cR" x="1463.9" y="417.4"/>
<use href="#cR" x="1465.4" y="417.4"/>
<use href="#cR" x="1466.8" y="415.7"/>
<use href="#cR" x="1468.3" y="415.6"/>
<use href="#cR" x="1469.7" y="416.0"/>
<use href="#cR" x="1471.2" y="415.9"/>
<use href="#cR" x="1472.6" y="415.6"/>
<use href="#cR" x="1474.0" y="413.5"/>
<use href="#cR" x="1475.5" y="413.7"/>
<use href="#cR" x="1476.9" y="413.7"/>
<use href="#cR" x="1478.4" y="412.7"/>
<use href="#cR" x="1479.8" y="412.6"/>
<use href="#cR" x="1481.3" y="411.1"/>
<use href="#cR" x="1482.7" y="410.3"/>
<use href="#cR" x="1484.1" y="409.9"/>
<use href="#cR" x="1485.6" y="409.6"/>
<use href="#cR" x="1487.0" y="410.5"/>
<use href="#cR" x="1488.5" y="410.2"/>
<use href="#cR" x="1489.9" y="410.1"/>
<use href="#cR" x="1491.4" y="408.9"/>
<use href="#cR" x="1492.8" y="408.8"/>
<use href="#cR" x="1494.3" y="408.6"/>
<use href="#cR" x="1495.7" y="409.9"/>
<use href="#cR" x="1497.1" y="410.1"/>
<use href="#cR" x="1498.6" y="409.8"/>
<use href="#cR" x="1500.0" y="407.7"/>
<use href="#cR" x="1501.5" y="407.4"/>
<use href="#cR" x="1502.9" y="409.4"/>
<use href="#cR" x="1504.4" y="408.1"/>
<use href="#cR" x="1505.8" y="408.7"/>
<use href="#cR" x="1507.3" y="407.5"/>
<use href="#cR" x="1508.7" y="407.7"/>
<use href="#cR" x="1510.1" y="407.6"/>
<use href="#cR" x="1511.6" y="407.3"/>
<use href="#cR" x="1513.0" y="407.5"/>
<use href="#cR" x="1514.5" y="406.0"/>
<use href="#cR" x="1515.9" y="407.5"/>
<use href="#cR" x="1517.4" y="407.7"/>
<use href="#cR" x="1518.8" y="406.1"/>
<use href="#cR" x="1520.2" y="406.7"/>
<use href="#cR" x="1521.7" y="407.4"/>
<use href="#cR" x="1523.1" y="406.6"/>
<use href="#cR" x="1524.6" y="406.1"/>
<use href="#cR" x="1526.0" y="406.2"/>
<use href="#cR" x="1527.5" y="407.2"/>
<use href="#cR" x="1528.9" y="406.2"/>
<use href="#cR" x="1530.4" y="408.5"/>
<use href="#cR" x="1531.8" y="408.4"/>
<use href="#cR" x="1533.2" y="408.3"/>
<use href="#cR" x="1534.7" y="408.9"/>
<use href="#cR" x="1536.1" y="408.5"/>
<use href="#cR" x="1537.6" y="408.1"/>
<use href="#cR" x="1539.0" y="408.7"/>
<use href="#cR" x="1540.5" y="408.7"/>
<use href="#cR" x="1541.9" y="410.0"/>
<use href="#cR" x="1543.4" y="409.8"/>
<use href="#cR" x="1544.8" y="408.6"/>
<use href="#cR" x="1546.2" y="410.4"/>
<use href="#cR" x="1547.7" y="410.2"/>
<use href="#cR" x="1549.1" y="410.5"/>
<use href="#cR" x="1550.6" y="410.7"/>
<use href="#cR" x="1552.0" y="410.0"/>
<use href="#cR" x="1553.5" y="411.4"/>
<use href="#cR" x="1554.9" y="411.5"/>
<use href="#cR" x="1556.3" y="411.3"/>
<use href="#cR" x="1557.8" y="411.7"/>
<use href="#cR" x="1559.2" y="411.9"/>
<use href="#cR" x="1560.7" y="411.2"/>
<use href="#cR" x="1562.1" y="412.2"/>
<use href="#cR" x="1563.6" y="410.9"/>
<use href="#cR" x="1565.0" y="411.7"/>
<use href="#cR" x="1566.5" y="412.3"/>
<use href="#cR" x="1567.9" y="411.4"/>
<use href="#cR" x="1569.3" y="412.4"/>
<use href="#cR" x="1570.8" y="413.3"/>
<use href="#cR" x="1572.2" y="413.5"/>
<use href="#cR" x="1573.7" y="412.9"/>
<use href="#cR" x="1575.1" y="414.9"/>
<use href="#cR" x="1576.6" y="414.6"/>
<use href="#cR" x="1578.0" y="414.1"/>
<use href="#cR" x="1579.5" y="415.1"/>
<use href="#cR" x="1580.9" y="415.2"/>
<use href="#cR" x="1582.3" y="415.4"/>
<use href="#cR" x="1583.8" y="415.4"/>
<use href="#cR" x="1585.2" y="417.2"/>
<use href="#cR" x="1586.7" y="416.6"/>
<use href="#cR" x="1588.1" y="417.1"/>
<use href="#cR" x="1589.6" y="417.6"/>
<use href="#cR" x="1591.0" y="418.4"/>
<use href="#cR" x="1592.4" y="416.4"/>
<use href="#cR" x="1593.9" y="418.2"/>
<use href="#cR" x="1595.3" y="418.8"/>
<use href="#cR" x="1596.8" y="418.1"/>
<use href="#cR" x="1598.2" y="418.9"/>
<use href="#cR" x="1599.7" y="418.4"/>
<use href="#cR" x="1601.1" y="419.2"/>
<use href="#cR" x="1602.6" y="420.0"/>
<use href="#cR" x="1604.0" y="419.8"/>
<use href="#cR" x="1605.4" y="420.5"/>
<use href="#cR" x="1606.9" y="422.5"/>
<use href="#cR" x="1608.3" y="422.0"/>
<use href="#cR" x="1609.8" y="422.3"/>
<use href="#cR" x="1611.2" y="423.8"/>
<use href="#cR" x="1612.7" y="423.3"/>
<use href="#cR" x="1614.1" y="424.7"/>
<use href="#cR" x="1615.6" y="424.2"/>
<use href="#cR" x="1617.0" y="425.0"/>
<use href="#cR" x="1618.4" y="423.5"/>
<use href="#cR" x="1619.9" y="425.0"/>
<use href="#cR" x="1621.3" y="425.7"/>
<use href="#cR" x="1622.8" y="424.3"/>
<use href="#cR" x="1624.2" y="426.8"/>
<use href="#cR" x="1625.7" y="425.2"/>
<use href="#cR" x="1627.1" y="426.3"/>
<use href="#cR" x="1628.5" y="425.8"/>
<use href="#cR" x="1630.0" y="426.9"/>
<use href="#cR" x="1631.4" y="427.4"/>
<use href="#cR" x="1632.9" y="426.4"/>
<use href="#cR" x="1634.3" y="428.8"/>
<use href="#cR" x="1635.8" y="427.8"/>
<use href="#cR" x="1637.2" y="428.3"/>
<use href="#cR" x="1638.7" y="428.8"/>
<use href="#cR" x="1640.1" y="428.5"/>
<use href="#cR" x="1641.5" y="428.6"/>
<use href="#cR" x="1643.0" y="429.7"/>
<use href="#cR" x="1644.4" y="429.8"/>
<use href="#cR" x="1645.9" y="429.4"/>
<use href="#cR" x="1647.3" y="430.7"/>
<use href="#cR" x="1648.8" y="430.0"/>
<use href="#cR" x="1650.2" y="429.6"/>
<use href="#cR" x="1651.7" y="430.4"/>
<use href="#cR" x="1653.1" y="430.2"/>
<use href="#cR" x="1654.5" y="430.8"/>
<use href="#cR" x="1656.0" y="432.5"/>
<use href="#cR" x="1657.4" y="431.9"/>
<use href="#cR" x="1658.9" y="433.4"/>
<use href="#cR" x="1660.3" y="433.3"/>
<use href="#cR" x="1661.8" y="431.9"/>
<use href="#cR" x="1663.2" y="434.4"/>
<use href="#cR" x="1664.6" y="434.6"/>
<use href="#cR" x="1666.1" y="432.8"/>
<use href="#cR" x="1667.5" y="435.0"/>
<use href="#cR" x="1669.0" y="434.1"/>
<use href="#cR" x="1670.4" y="434.5"/>
<use href="#cR" x="1671.9" y="436.0"/>
<use href="#cR" x="1673.3" y="434.5"/>
<use href="#cR" x="1674.8" y="435.4"/>
<use href="#cR" x="1676.2" y="436.7"/>
<use href="#cR" x="1677.6" y="436.4"/>
<use href="#cR" x="1679.1" y="436.0"/>
<use href="#cR" x="1680.5" y="437.5"/>
<use href="#cR" x="1682.0" y="437.3"/>
<use href="#cR" x="1683.4" y="437.1"/>
<use href="#cR" x="1684.9" y="436.1"/>
<use href="#cR" x="1686.3" y="437.6"/>
<use href="#cR" x="1687.8" y="437.4"/>
<use href="#cR" x="1689.2" y="437.0"/>
<use href="#cR" x="1690.6" y="436.9"/>
<use href="#cR" x="1692.1" y="438.2"/>
<use href="#cR" x="1693.5" y="437.4"/>
<use href="#cR" x="1695.0" y="438.4"/>
<use href="#cR" x="1696.4" y="439.1"/>
<use href="#cR" x="1697.9" y="438.8"/>
<use href="#cR" x="1699.3" y="438.6"/>
<use href="#cR" x="1700.7" y="439.5"/>
<use href="#cR" x="1702.2" y="439.4"/>
<use href="#cR" x="1703.6" y="440.4"/>
<use href="#cR" x="1705.1" y="439.9"/>
<use href="#cR" x="1706.5" y="441.2"/>
<use href="#cR" x="1708.0" y="441.3"/>
<use href="#cR" x="1709.4" y="440.9"/>
<use href="#cR" x="1710.9" y="439.9"/>
<use href="#cR" x="1712.3" y="439.7"/>
<use href="#cR" x="1713.7" y="441.7"/>
<use href="#cR" x="1715.2" y="441.6"/>
<use href="#cR" x="1716.6" y="441.4"/>
<use href="#cR" x="1718.1" y="440.9"/>
<use href="#cR" x="1719.5" y="440.8"/>
<use href="#cR" x="1721.0" y="442.0"/>
<use href="#cR" x="1722.4" y="441.8"/>
<use href="#cR" x="1723.9" y="442.0"/>
<use href="#cR" x="1725.3" y="442.3"/>
<use href="#cR" x="1726.7" y="442.7"/>
<use href="#cR" x="1728.2" y="441.5"/>
<use href="#cR" x="1729.6" y="441.8"/>
<use href="#cR" x="1731.1" y="443.7"/>
<use href="#cR" x="1732.5" y="443.6"/>
<use href="#cR" x="1734.0" y="443.7"/>
<use href="#cR" x="1735.4" y="441.8"/>
<use href="#cR" x="1736.8" y="442.0"/>
<use href="#cR" x="1738.3" y="442.6"/>
<use href="#cR" x="1739.7" y="443.1"/>
<use href="#cR" x="1741.2" y="443.7"/>
<use href="#cR" x="1742.6" y="442.6"/>
<use href="#cR" x="1744.1" y="443.7"/>
<use href="#cR" x="1745.5" y="442.7"/>
<use href="#cR" x="1747.0" y="442.8"/>
<use href="#cR" x="1748.4" y="444.3"/>
<use href="#cR" x="1749.8" y="444.1"/>
<use href="#cR" x="1751.3" y="444.4"/>
<use href="#cR" x="1752.7" y="443.9"/>
<use href="#cR" x="1754.2" y="444.2"/>
<use href="#cR" x="1755.6" y="443.7"/>
<use href="#cR" x="1757.1" y="444.1"/>
<use href="#cR" x="1758.5" y="445.1"/>
<use href="#cR" x="1760.0" y="445.4"/>
<use href="#cR" x="1761.4" y="443.6"/>
<use href="#cR" x="1762.8" y="443.8"/>
<use href="#cR" x="1764.3" y="445.6"/>
<use href="#cR" x="1765.7" y="445.2"/>
<use href="#cR" x="1767.2" y="445.6"/>
<use href="#cR" x="1768.6" y="444.4"/>
<use href="#cR" x="1770.1" y="445.0"/>
<use href="#cR" x="1771.5" y="444.7"/>
<use href="#cR" x="1772.9" y="446.1"/>
<use href="#cR" x="1774.4" y="445.1"/>
<use href="#cR" x="1775.8" y="445.8"/>
<use href="#cR" x="1777.3" y="446.7"/>
</g>
<line x1="1315.20" y1="450.20" x2="1315.20" y2="457.50" stroke="#000" stroke-width="3.7" />
<line x1="1459.60" y1="450.20" x2="1459.60" y2="457.50" stroke="#000" stroke-width="3.7" />
<line x1="1604.00" y1="450.20" x2="1604.00" y2="457.50" stroke="#000" stroke-width="3.7" />
<line x1="1748.40" y1="450.20" x2="1748.40" y2="457.50" stroke="#000" stroke-width="3.7" />
<line x1="1387.40" y1="450.20" x2="1387.40" y2="453.40" stroke="#000" stroke-width="3.6" />
<line x1="1531.80" y1="450.20" x2="1531.80" y2="453.40" stroke="#000" stroke-width="3.6" />
<line x1="1676.20" y1="450.20" x2="1676.20" y2="453.40" stroke="#000" stroke-width="3.6" />
<text x="1290.90" y="486.00" font-size="29.00" font-weight="bold" fill="#000">500</text>
<text x="1435.23" y="486.00" font-size="29.00" font-weight="bold" fill="#000">600</text>
<text x="1579.56" y="486.00" font-size="29.00" font-weight="bold" fill="#000">700</text>
<text x="1724.10" y="486.00" font-size="29.00" font-weight="bold" fill="#000">800</text>
<text x="1428.40" y="519.18" font-size="29.50" font-weight="bold" fill="#000">Wavelength (nm)</text>
<text transform="translate(1294.66,351.34) rotate(-90)" font-size="32.92" font-weight="bold" fill="#000">PL Intensity</text>
<text x="1224.56" y="68.06" font-size="36.89" font-weight="bold" fill="#000">(c)</text>
<circle cx="1659.8" cy="125.9" r="5.4" fill="url(#sB)"/><circle cx="1659.8" cy="162.1" r="5.4" fill="url(#sR)"/>
<text x="1704.12" y="136.48" font-size="29.50" font-weight="bold" fill="#000">S1</text>
<text x="1704.12" y="172.48" font-size="29.50" font-weight="bold" fill="#000">S2</text>
<rect x="122.10" y="586.00" width="465.10" height="395.80" fill="#fefefe" stroke="none" stroke-width="0" />
<clipPath id="clipD"><rect x="122" y="586" width="465" height="396"/></clipPath><g clip-path="url(#clipD)">
<polyline fill="none" stroke="#404040" stroke-width="4.0" stroke-linejoin="round" points="122.0,981.6 193.2,967.8 264.7,953.2 336.9,934.3 408.0,916.2 480.0,895.6 551.4,882.7"/>
<circle cx="122.0" cy="981.6" r="7.8" fill="#f5a623"/>
<circle cx="193.2" cy="967.8" r="7.8" fill="#f5a623"/>
<circle cx="264.7" cy="953.2" r="7.8" fill="#f5a623"/>
<circle cx="336.9" cy="934.3" r="7.8" fill="#f5a623"/>
<circle cx="408.0" cy="916.2" r="7.8" fill="#f5a623"/>
<circle cx="480.0" cy="895.6" r="7.8" fill="#f5a623"/>
<circle cx="551.4" cy="882.7" r="7.8" fill="#f5a623"/>
</g>
<path d="M546.4,612.2H556.4M546.4,641.4H556.4M551.4,612.2V641.4" stroke="#d9000d" stroke-width="2.6" fill="none"/>
<path d="M475.0,669.0H485.0M475.0,689.7H485.0M480.0,669.0V689.7" stroke="#d9000d" stroke-width="2.6" fill="none"/>
<polyline fill="none" stroke="#404040" stroke-width="4.0" stroke-linejoin="round" points="193.2,954.0 264.7,925.0 336.9,896.6 408.0,858.3 480.0,823.6 551.4,792.3"/>
<circle cx="193.2" cy="954.0" r="7.8" fill="#002a84"/>
<circle cx="264.7" cy="925.0" r="7.8" fill="#002a84"/>
<circle cx="336.9" cy="896.6" r="7.8" fill="#002a84"/>
<circle cx="408.0" cy="858.3" r="7.8" fill="#002a84"/>
<circle cx="480.0" cy="823.6" r="7.8" fill="#002a84"/>
<circle cx="551.4" cy="792.3" r="7.8" fill="#002a84"/>
<polyline fill="none" stroke="#404040" stroke-width="4.0" points="122,981.6 193.2,954"/><circle cx="193.2" cy="954" r="7.8" fill="#002a84"/>
<polyline fill="none" stroke="#404040" stroke-width="4.0" points="122,981.6 193.2,967.8"/><circle cx="193.2" cy="967.8" r="7.8" fill="#f5a623"/>
<polyline fill="none" stroke="#404040" stroke-width="4.0" stroke-linejoin="round" points="193.2,907.4 264.7,855.1 336.9,793.6 408.0,731.2 480.0,679.1 551.4,627.0"/>
<circle cx="193.2" cy="907.4" r="7.8" fill="#d9000d"/>
<circle cx="264.7" cy="855.1" r="7.8" fill="#d9000d"/>
<circle cx="336.9" cy="793.6" r="7.8" fill="#d9000d"/>
<circle cx="408.0" cy="731.2" r="7.8" fill="#d9000d"/>
<circle cx="480.0" cy="679.1" r="7.8" fill="#d9000d"/>
<circle cx="551.4" cy="627.0" r="7.8" fill="#d9000d"/>
<polyline fill="none" stroke="#404040" stroke-width="4.0" points="122,981.6 193.2,907.4"/><circle cx="193.2" cy="907.4" r="7.8" fill="#d9000d"/>
<circle cx="122.1" cy="981.8" r="7.8" fill="#f5a623" clip-path="url(#clipD)"/>
<rect x="122.10" y="586.00" width="465.10" height="395.80" fill="none" stroke="#000" stroke-width="3.8" />
<line x1="122.10" y1="981.80" x2="122.10" y2="988.70" stroke="#000" stroke-width="3.8" />
<line x1="193.67" y1="981.80" x2="193.67" y2="988.70" stroke="#000" stroke-width="3.8" />
<line x1="265.24" y1="981.80" x2="265.24" y2="988.70" stroke="#000" stroke-width="3.8" />
<line x1="336.81" y1="981.80" x2="336.81" y2="988.70" stroke="#000" stroke-width="3.8" />
<line x1="408.38" y1="981.80" x2="408.38" y2="988.70" stroke="#000" stroke-width="3.8" />
<line x1="479.95" y1="981.80" x2="479.95" y2="988.70" stroke="#000" stroke-width="3.8" />
<line x1="551.52" y1="981.80" x2="551.52" y2="988.70" stroke="#000" stroke-width="3.8" />
<line x1="157.88" y1="981.80" x2="157.88" y2="985.00" stroke="#000" stroke-width="3.8" />
<line x1="229.45" y1="981.80" x2="229.45" y2="985.00" stroke="#000" stroke-width="3.8" />
<line x1="301.02" y1="981.80" x2="301.02" y2="985.00" stroke="#000" stroke-width="3.8" />
<line x1="372.60" y1="981.80" x2="372.60" y2="985.00" stroke="#000" stroke-width="3.8" />
<line x1="444.16" y1="981.80" x2="444.16" y2="985.00" stroke="#000" stroke-width="3.8" />
<line x1="515.74" y1="981.80" x2="515.74" y2="985.00" stroke="#000" stroke-width="3.8" />
<line x1="114.00" y1="981.80" x2="122.10" y2="981.80" stroke="#000" stroke-width="3.7" />
<line x1="114.00" y1="896.17" x2="122.10" y2="896.17" stroke="#000" stroke-width="3.7" />
<line x1="114.00" y1="810.55" x2="122.10" y2="810.55" stroke="#000" stroke-width="3.7" />
<line x1="114.00" y1="724.92" x2="122.10" y2="724.92" stroke="#000" stroke-width="3.7" />
<line x1="114.00" y1="639.30" x2="122.10" y2="639.30" stroke="#000" stroke-width="3.7" />
<line x1="117.60" y1="938.99" x2="122.10" y2="938.99" stroke="#000" stroke-width="3.6" />
<line x1="117.60" y1="853.36" x2="122.10" y2="853.36" stroke="#000" stroke-width="3.6" />
<line x1="117.60" y1="767.74" x2="122.10" y2="767.74" stroke="#000" stroke-width="3.6" />
<line x1="117.60" y1="682.11" x2="122.10" y2="682.11" stroke="#000" stroke-width="3.6" />
<line x1="117.60" y1="596.49" x2="122.10" y2="596.49" stroke="#000" stroke-width="3.6" />
<text x="92.56" y="990.01" font-size="29.60" font-weight="bold" fill="#000">0</text>
<text x="59.70" y="904.39" font-size="29.60" font-weight="bold" fill="#000">500</text>
<text x="43.12" y="818.76" font-size="29.60" font-weight="bold" fill="#000">1000</text>
<text x="43.12" y="733.14" font-size="29.60" font-weight="bold" fill="#000">1500</text>
<text x="43.12" y="647.51" font-size="29.60" font-weight="bold" fill="#000">2000</text>
<text x="114.35" y="1017.11" font-size="29.00" font-weight="bold" fill="#000">0</text>
<text x="177.28" y="1017.11" font-size="29.00" font-weight="bold" fill="#000">10</text>
<text x="249.22" y="1017.11" font-size="29.00" font-weight="bold" fill="#000">20</text>
<text x="320.93" y="1017.11" font-size="29.00" font-weight="bold" fill="#000">30</text>
<text x="392.65" y="1017.11" font-size="29.00" font-weight="bold" fill="#000">40</text>
<text x="464.00" y="1017.11" font-size="29.00" font-weight="bold" fill="#000">50</text>
<text x="535.50" y="1017.11" font-size="29.00" font-weight="bold" fill="#000">60</text>
<text x="280.20" y="1052.82" font-size="29.76" font-weight="bold" fill="#000">Time (min)</text>
<text x="32.19" y="596.66" font-size="36.19" font-weight="bold" fill="#000">(d)</text>
<line x1="152.40" y1="640.60" x2="218.20" y2="640.60" stroke="#404040" stroke-width="3.8" stroke-linecap="round"/>
<circle cx="185.5" cy="640.6" r="7.7" fill="#002a84"/>
<text x="227.02" y="650.27" font-size="29.20" font-weight="bold" fill="#000">S1</text>
<line x1="152.40" y1="676.90" x2="218.20" y2="676.90" stroke="#404040" stroke-width="3.8" stroke-linecap="round"/>
<circle cx="185.5" cy="676.9" r="7.7" fill="#d9000d"/>
<text x="227.02" y="686.77" font-size="29.20" font-weight="bold" fill="#000">S2</text>
<line x1="152.40" y1="713.00" x2="218.20" y2="713.00" stroke="#404040" stroke-width="3.8" stroke-linecap="round"/>
<circle cx="185.5" cy="713.0" r="7.7" fill="#f5a623"/>
<text x="227.10" y="722.87" font-size="29.20" font-weight="bold" fill="#000">L2</text>
<text x="1085.48" y="150.60" font-size="27.92" font-weight="bold" fill="#404040"><tspan>O</tspan><tspan font-size="18.71" dy="6.98">2</tspan><tspan dy="-6.98">/O</tspan><tspan font-size="18.71" dy="6.98">2</tspan><tspan dy="-6.98">·</tspan><tspan font-size="18.71" dy="-11.45">-</tspan></text>
<text x="1080.31" y="243.20" font-size="27.37" font-weight="bold" fill="#404040"><tspan>O</tspan><tspan font-size="18.34" dy="6.84">2</tspan><tspan dy="-6.84">/H</tspan><tspan font-size="18.34" dy="6.84">2</tspan><tspan dy="-6.84">O</tspan><tspan font-size="18.34" dy="6.84">2</tspan></text>
<text transform="translate(35.80,917.43) rotate(-90)" font-size="29.66" font-weight="bold" fill="#000"><tspan>H</tspan><tspan font-weight="normal" font-size="20.76" dy="6.53">2</tspan><tspan dy="-6.53">O</tspan><tspan font-weight="normal" font-size="20.76" dy="6.53">2</tspan><tspan dy="-6.53"> yield (</tspan><tspan font-weight="normal">μ</tspan><tspan>mol/g)</tspan></text>
<rect x="742.10" y="587.40" width="467.20" height="397.20" fill="#ffffff" stroke="none" stroke-width="0" />
<rect x="767.60" y="638.4" width="42.0" height="346.20" fill="#d40000" stroke="#000" stroke-width="2.9" stroke-linejoin="round"/>
<line x1="789.00" y1="984.60" x2="789.00" y2="991.60" stroke="#000" stroke-width="3.8" />
<text x="779.36" y="1020.91" font-size="29.30" font-weight="bold" fill="#000">1</text>
<rect x="860.93" y="638.4" width="42.0" height="346.20" fill="#d40000" stroke="#000" stroke-width="2.9" stroke-linejoin="round"/>
<line x1="882.33" y1="984.60" x2="882.33" y2="991.60" stroke="#000" stroke-width="3.8" />
<text x="874.27" y="1020.91" font-size="29.30" font-weight="bold" fill="#000">2</text>
<rect x="954.26" y="638.4" width="42.0" height="346.20" fill="#d40000" stroke="#000" stroke-width="2.9" stroke-linejoin="round"/>
<line x1="975.66" y1="984.60" x2="975.66" y2="991.60" stroke="#000" stroke-width="3.8" />
<text x="967.68" y="1020.91" font-size="29.30" font-weight="bold" fill="#000">3</text>
<rect x="1047.59" y="638.4" width="42.0" height="346.20" fill="#d40000" stroke="#000" stroke-width="2.9" stroke-linejoin="round"/>
<line x1="1068.99" y1="984.60" x2="1068.99" y2="991.60" stroke="#000" stroke-width="3.8" />
<text x="1060.71" y="1020.91" font-size="29.30" font-weight="bold" fill="#000">4</text>
<rect x="1140.92" y="638.4" width="42.0" height="346.20" fill="#d40000" stroke="#000" stroke-width="2.9" stroke-linejoin="round"/>
<line x1="1162.32" y1="984.60" x2="1162.32" y2="991.60" stroke="#000" stroke-width="3.8" />
<text x="1154.12" y="1020.91" font-size="29.30" font-weight="bold" fill="#000">5</text>
<rect x="742.10" y="587.40" width="467.20" height="397.20" fill="none" stroke="#000" stroke-width="3.7" />
<line x1="734.10" y1="984.60" x2="742.10" y2="984.60" stroke="#000" stroke-width="3.7" />
<text x="712.10" y="993.25" font-size="29.70" font-weight="bold" fill="#000">0</text>
<line x1="734.10" y1="915.20" x2="742.10" y2="915.20" stroke="#000" stroke-width="3.7" />
<text x="695.62" y="924.15" font-size="29.70" font-weight="bold" fill="#000">20</text>
<line x1="734.10" y1="846.10" x2="742.10" y2="846.10" stroke="#000" stroke-width="3.7" />
<text x="695.62" y="855.05" font-size="29.70" font-weight="bold" fill="#000">40</text>
<line x1="734.10" y1="777.00" x2="742.10" y2="777.00" stroke="#000" stroke-width="3.7" />
<text x="695.62" y="785.95" font-size="29.70" font-weight="bold" fill="#000">60</text>
<line x1="734.10" y1="707.90" x2="742.10" y2="707.90" stroke="#000" stroke-width="3.7" />
<text x="695.62" y="716.85" font-size="29.70" font-weight="bold" fill="#000">80</text>
<line x1="734.10" y1="638.80" x2="742.10" y2="638.80" stroke="#000" stroke-width="3.7" />
<text x="679.14" y="647.75" font-size="29.70" font-weight="bold" fill="#000">100</text>
<text x="924.23" y="1051.24" font-size="31.70" font-weight="bold" fill="#000">Cycles</text>
<text x="679.79" y="598.40" font-size="36.20" font-weight="bold" fill="#000">(e)</text>
<text transform="translate(668.78,893.49) rotate(-90)" font-size="29.79" font-weight="bold" fill="#000">Conversion (%)</text>
<rect x="1318.20" y="589.10" width="466.80" height="395.00" fill="#fdfdfd" stroke="none" stroke-width="0" />
<g clip-path="url(#clipF)">
<path d="M1318.4,857.4 L1319.4,860.1 L1320.5,856.7 L1321.5,860.7 L1322.5,860.5 L1323.6,860.3 L1324.6,857.3 L1325.7,858.8 L1326.7,857.7 L1327.7,857.1 L1328.8,860.0 L1329.8,860.1 L1330.8,857.5 L1331.9,860.2 L1332.9,860.0 L1334.0,858.4 L1335.0,860.4 L1336.0,858.9 L1337.1,859.8 L1338.1,857.7 L1339.1,859.5 L1340.2,858.7 L1341.2,856.3 L1342.3,859.1 L1343.3,860.9 L1344.3,859.5 L1345.4,858.3 L1346.4,857.5 L1347.4,858.0 L1348.5,853.3 L1349.5,810.4 L1350.5,675.2 L1351.6,635.5 L1352.6,674.3 L1353.7,809.5 L1354.7,850.5 L1355.7,858.3 L1356.8,856.3 L1357.8,857.8 L1358.8,856.7 L1359.9,855.0 L1360.9,836.3 L1362.0,780.8 L1363.0,772.3 L1364.0,786.1 L1365.1,834.7 L1366.1,851.5 L1367.1,854.3 L1368.2,856.6 L1369.2,856.2 L1370.2,857.8 L1371.3,856.9 L1372.3,859.8 L1373.4,856.6 L1374.4,855.7 L1375.4,856.4 L1376.5,856.3 L1377.5,857.0 L1378.5,855.0 L1379.6,834.1 L1380.6,823.4 L1381.7,833.7 L1382.7,853.9 L1383.7,858.2 L1384.8,859.5 L1385.8,859.5 L1386.8,859.6 L1387.9,858.2 L1388.9,858.3 L1390.0,857.3 L1391.0,854.8 L1392.0,841.6 L1393.1,798.6 L1394.1,787.6 L1395.1,797.6 L1396.2,834.4 L1397.2,845.7 L1398.2,847.2 L1399.3,851.6 L1400.3,852.1 L1401.4,852.2 L1402.4,851.1 L1403.4,854.5 L1404.5,851.6 L1405.5,853.0 L1406.5,852.8 L1407.6,854.1 L1408.6,854.3 L1409.7,855.8 L1410.7,854.0 L1411.7,854.6 L1412.8,854.3 L1413.8,851.8 L1414.8,856.1 L1415.9,855.1 L1416.9,857.1 L1418.0,855.6 L1419.0,857.9 L1420.0,857.9 L1421.1,855.1 L1422.1,857.4 L1423.1,857.9 L1424.2,856.8 L1425.2,858.1 L1426.2,854.3 L1427.3,859.2 L1428.3,857.1 L1429.4,859.2 L1430.4,858.4 L1431.4,860.3 L1432.5,859.9 L1433.5,860.3 L1434.5,859.3 L1435.6,860.3 L1436.6,856.9 L1437.7,857.7 L1438.7,857.0 L1439.7,858.3 L1440.8,859.6 L1441.8,859.4 L1442.8,857.1 L1443.9,859.6 L1444.9,855.1 L1446.0,857.6 L1447.0,858.0 L1448.0,860.2 L1449.1,858.7 L1450.1,857.6 L1451.1,860.2 L1452.2,858.0 L1453.2,858.7 L1454.2,855.7 L1455.3,856.4 L1456.3,855.9 L1457.4,855.4 L1458.4,856.0 L1459.4,854.6 L1460.5,855.5 L1461.5,855.0 L1462.5,858.5 L1463.6,856.8 L1464.6,855.9 L1465.7,857.7 L1466.7,858.6 L1467.7,856.3 L1468.8,858.3 L1469.8,859.1 L1470.8,854.8 L1471.9,847.1 L1472.9,840.2 L1474.0,845.1 L1475.0,855.4 L1476.0,856.3 L1477.1,858.0 L1478.1,858.0 L1479.1,855.8 L1480.2,856.2 L1481.2,859.3 L1482.2,858.1 L1483.3,860.0 L1484.3,858.7 L1485.4,856.3 L1486.4,858.0 L1487.4,856.7 L1488.5,857.3 L1489.5,855.4 L1490.5,856.4 L1491.6,855.1 L1492.6,852.7 L1493.7,851.5 L1494.7,851.8 L1495.7,852.9 L1496.8,857.2 L1497.8,858.0 L1498.8,856.0 L1499.9,855.6 L1500.9,857.2 L1501.9,859.2 L1503.0,857.6 L1504.0,859.0 L1505.1,855.6 L1506.1,859.5 L1507.1,856.4 L1508.2,857.3 L1509.2,858.4 L1510.2,856.7 L1511.3,859.5 L1512.3,860.5 L1513.4,858.8 L1514.4,856.9 L1515.4,860.0 L1516.5,857.1 L1517.5,860.4 L1518.5,861.0 L1519.6,857.9 L1520.6,860.2 L1521.7,860.1 L1522.7,860.2 L1523.7,859.9 L1524.8,857.4 L1525.8,855.8 L1526.8,858.2 L1527.9,857.8 L1528.9,855.2 L1529.9,852.3 L1531.0,854.3 L1532.0,857.6 L1533.1,857.8 L1534.1,857.8 L1535.1,859.7 L1536.2,857.8 L1537.2,856.4 L1538.2,857.3 L1539.3,859.4 L1540.3,856.4 L1541.4,856.7 L1542.4,859.0 L1543.4,858.5 L1544.5,845.8 L1545.5,799.8 L1546.5,782.2 L1547.6,800.1 L1548.6,849.0 L1549.7,857.8 L1550.7,857.2 L1551.7,856.2 L1552.8,856.7 L1553.8,857.4 L1554.8,857.1 L1555.9,859.9 L1556.9,858.0 L1557.9,858.3 L1559.0,857.2 L1560.0,858.4 L1561.1,858.1 L1562.1,858.9 L1563.1,859.0 L1564.2,859.3 L1565.2,854.9 L1566.2,858.1 L1567.3,857.2 L1568.3,856.7 L1569.4,856.9 L1570.4,858.5 L1571.4,855.8 L1572.5,859.3 L1573.5,859.8 L1574.5,855.9 L1575.6,856.7 L1576.6,857.5 L1577.7,858.2 L1578.7,857.6 L1579.7,857.0 L1580.8,858.1 L1581.8,857.2 L1582.8,860.1 L1583.9,860.0 L1584.9,857.0 L1585.9,859.4 L1587.0,857.4 L1588.0,859.3 L1589.1,858.5 L1590.1,859.4 L1591.1,857.6 L1592.2,859.1 L1593.2,856.6 L1594.2,856.1 L1595.3,858.9 L1596.3,857.4 L1597.4,857.2 L1598.4,856.8 L1599.4,857.3 L1600.5,859.5 L1601.5,859.7 L1602.5,855.2 L1603.6,856.1 L1604.6,856.6 L1605.6,854.7 L1606.7,855.9 L1607.7,829.3 L1608.8,819.0 L1609.8,830.8 L1610.8,854.2 L1611.9,856.9 L1612.9,857.8 L1613.9,859.1 L1615.0,857.8 L1616.0,858.4 L1617.1,855.9 L1618.1,857.7 L1619.1,857.8 L1620.2,858.8 L1621.2,858.6 L1622.2,857.8 L1623.3,856.3 L1624.3,855.6 L1625.4,857.2 L1626.4,859.0 L1627.4,856.6 L1628.5,858.9 L1629.5,855.4 L1630.5,857.1 L1631.6,856.7 L1632.6,858.2 L1633.6,856.4 L1634.7,856.3 L1635.7,858.8 L1636.8,857.9 L1637.8,857.3 L1638.8,856.5 L1639.9,857.3 L1640.9,857.6 L1641.9,859.1 L1643.0,856.6 L1644.0,859.2 L1645.1,858.7 L1646.1,859.3 L1647.1,857.9 L1648.2,860.3 L1649.2,857.3 L1650.2,858.7 L1651.3,856.8 L1652.3,856.8 L1653.4,858.1 L1654.4,856.8 L1655.4,855.6 L1656.5,855.8 L1657.5,856.0 L1658.5,857.1 L1659.6,858.6 L1660.6,858.3 L1661.6,856.7 L1662.7,859.7 L1663.7,855.6 L1664.8,859.6 L1665.8,858.6 L1666.8,859.3 L1667.9,858.8 L1668.9,859.4 L1669.9,859.0 L1671.0,856.2 L1672.0,857.1 L1673.1,856.6 L1674.1,856.3 L1675.1,858.6 L1676.2,855.0 L1677.2,853.8 L1678.2,855.4 L1679.3,855.8 L1680.3,857.4 L1681.4,858.6 L1682.4,855.5 L1683.4,859.0 L1684.5,857.4 L1685.5,858.4 L1686.5,856.3 L1687.6,859.7 L1688.6,859.9 L1689.6,859.4 L1690.7,858.4 L1691.7,858.4 L1692.8,855.0 L1693.8,858.9 L1694.8,859.4 L1695.9,857.6 L1696.9,860.5 L1697.9,857.8 L1699.0,858.2 L1700.0,858.2 L1701.1,860.0 L1702.1,856.7 L1703.1,857.1 L1704.2,857.4 L1705.2,857.5 L1706.2,857.9 L1707.3,856.9 L1708.3,857.9 L1709.3,857.7 L1710.4,858.8 L1711.4,860.6 L1712.5,859.9 L1713.5,857.9 L1714.5,858.8 L1715.6,856.5 L1716.6,856.3 L1717.6,855.8 L1718.7,857.4 L1719.7,856.5 L1720.8,859.6 L1721.8,857.5 L1722.8,855.0 L1723.9,858.3 L1724.9,859.1 L1725.9,860.1 L1727.0,858.0 L1728.0,859.1 L1729.1,859.1 L1730.1,858.6 L1731.1,858.0 L1732.2,860.4 L1733.2,858.5 L1734.2,860.1 L1735.3,859.4 L1736.3,859.4 L1737.3,859.6 L1738.4,858.7 L1739.4,856.6 L1740.5,857.7 L1741.5,858.1 L1742.5,860.1 L1743.6,859.3 L1744.6,859.8 L1745.6,856.5 L1746.7,858.1 L1747.7,854.9 L1748.8,853.1 L1749.8,855.7 L1750.8,853.4 L1751.9,852.0 L1752.9,836.9 L1753.9,834.6 L1755.0,840.0 L1756.0,851.5 L1757.1,855.0 L1758.1,857.2 L1759.1,857.5 L1760.2,855.4 L1761.2,857.8 L1762.2,857.8 L1763.3,858.5 L1764.3,857.1 L1765.3,858.9 L1766.4,856.1 L1767.4,859.0 L1768.5,859.5 L1769.5,859.3 L1770.5,859.7 L1771.6,858.6 L1772.6,859.2 L1773.6,858.2 L1774.7,857.3 L1775.7,857.2 L1776.8,858.0 L1777.8,859.4 L1778.8,859.1 L1779.9,860.4 L1780.9,856.3 L1781.9,858.8 L1783.0,856.9 L1784.0,855.9 L1785.1,857.7 L1785.1,864.7 L1784.0,863.9 L1783.0,864.0 L1781.9,864.8 L1780.9,865.4 L1779.9,864.9 L1778.8,864.7 L1777.8,864.0 L1776.8,865.3 L1775.7,864.4 L1774.7,864.1 L1773.6,864.1 L1772.6,864.6 L1771.6,864.5 L1770.5,864.3 L1769.5,864.3 L1768.5,864.1 L1767.4,864.0 L1766.4,863.5 L1765.3,864.7 L1764.3,864.2 L1763.3,863.5 L1762.2,862.8 L1761.2,863.6 L1760.2,863.6 L1759.1,863.1 L1758.1,863.9 L1757.1,864.2 L1756.0,863.1 L1755.0,859.9 L1753.9,846.7 L1752.9,859.6 L1751.9,861.7 L1750.8,861.6 L1749.8,861.7 L1748.8,861.9 L1747.7,863.0 L1746.7,863.5 L1745.6,865.5 L1744.6,865.7 L1743.6,864.8 L1742.5,865.4 L1741.5,865.8 L1740.5,865.9 L1739.4,864.6 L1738.4,865.4 L1737.3,867.6 L1736.3,866.7 L1735.3,865.6 L1734.2,865.5 L1733.2,866.5 L1732.2,865.0 L1731.1,864.7 L1730.1,864.8 L1729.1,864.2 L1728.0,864.7 L1727.0,866.3 L1725.9,864.7 L1724.9,865.3 L1723.9,863.8 L1722.8,866.5 L1721.8,864.2 L1720.8,864.1 L1719.7,864.7 L1718.7,864.6 L1717.6,865.0 L1716.6,866.3 L1715.6,863.8 L1714.5,864.6 L1713.5,864.5 L1712.5,865.7 L1711.4,865.2 L1710.4,865.0 L1709.3,865.0 L1708.3,864.1 L1707.3,864.7 L1706.2,865.4 L1705.2,864.9 L1704.2,865.6 L1703.1,865.1 L1702.1,865.9 L1701.1,864.6 L1700.0,865.0 L1699.0,864.9 L1697.9,865.2 L1696.9,865.4 L1695.9,865.0 L1694.8,864.5 L1693.8,865.4 L1692.8,865.3 L1691.7,865.1 L1690.7,865.7 L1689.6,866.2 L1688.6,865.3 L1687.6,865.4 L1686.5,865.4 L1685.5,865.3 L1684.5,864.9 L1683.4,863.5 L1682.4,863.4 L1681.4,864.1 L1680.3,863.6 L1679.3,863.8 L1678.2,864.6 L1677.2,863.9 L1676.2,864.2 L1675.1,864.0 L1674.1,863.4 L1673.1,864.2 L1672.0,863.7 L1671.0,863.5 L1669.9,864.7 L1668.9,865.1 L1667.9,865.2 L1666.8,863.8 L1665.8,864.5 L1664.8,864.1 L1663.7,864.3 L1662.7,864.2 L1661.6,863.5 L1660.6,863.8 L1659.6,863.5 L1658.5,864.7 L1657.5,864.4 L1656.5,865.0 L1655.4,863.6 L1654.4,863.6 L1653.4,863.7 L1652.3,864.5 L1651.3,865.3 L1650.2,864.2 L1649.2,865.0 L1648.2,865.3 L1647.1,864.5 L1646.1,865.6 L1645.1,866.8 L1644.0,864.1 L1643.0,864.0 L1641.9,863.6 L1640.9,864.9 L1639.9,865.2 L1638.8,863.8 L1637.8,863.4 L1636.8,864.2 L1635.7,863.3 L1634.7,864.4 L1633.6,864.6 L1632.6,863.7 L1631.6,864.0 L1630.5,863.9 L1629.5,864.1 L1628.5,863.5 L1627.4,863.4 L1626.4,864.3 L1625.4,863.8 L1624.3,863.4 L1623.3,864.0 L1622.2,866.3 L1621.2,863.6 L1620.2,863.4 L1619.1,864.0 L1618.1,864.6 L1617.1,863.9 L1616.0,865.8 L1615.0,864.7 L1613.9,864.2 L1612.9,865.2 L1611.9,864.4 L1610.8,863.6 L1609.8,862.4 L1608.8,837.1 L1607.7,861.1 L1606.7,862.5 L1605.6,863.2 L1604.6,863.5 L1603.6,863.5 L1602.5,863.1 L1601.5,865.4 L1600.5,864.1 L1599.4,865.3 L1598.4,864.1 L1597.4,864.0 L1596.3,865.4 L1595.3,863.4 L1594.2,863.5 L1593.2,864.7 L1592.2,865.0 L1591.1,864.3 L1590.1,865.4 L1589.1,865.3 L1588.0,864.9 L1587.0,865.2 L1585.9,864.0 L1584.9,865.2 L1583.9,865.7 L1582.8,864.7 L1581.8,865.0 L1580.8,865.6 L1579.7,864.7 L1578.7,864.7 L1577.7,865.2 L1576.6,864.1 L1575.6,863.5 L1574.5,863.8 L1573.5,864.3 L1572.5,865.2 L1571.4,864.9 L1570.4,864.3 L1569.4,864.6 L1568.3,864.8 L1567.3,864.0 L1566.2,865.4 L1565.2,864.0 L1564.2,864.2 L1563.1,863.5 L1562.1,864.6 L1561.1,863.7 L1560.0,864.7 L1559.0,865.2 L1557.9,865.7 L1556.9,865.9 L1555.9,865.3 L1554.8,865.2 L1553.8,865.4 L1552.8,864.2 L1551.7,864.1 L1550.7,863.6 L1549.7,863.7 L1548.6,865.8 L1547.6,853.7 L1546.5,806.4 L1545.5,854.0 L1544.5,863.5 L1543.4,867.1 L1542.4,863.8 L1541.4,866.0 L1540.3,864.3 L1539.3,864.7 L1538.2,865.2 L1537.2,864.4 L1536.2,864.4 L1535.1,864.3 L1534.1,865.0 L1533.1,865.9 L1532.0,865.4 L1531.0,864.6 L1529.9,860.8 L1528.9,862.7 L1527.9,863.9 L1526.8,864.3 L1525.8,864.6 L1524.8,865.0 L1523.7,864.8 L1522.7,865.3 L1521.7,864.7 L1520.6,865.7 L1519.6,865.3 L1518.5,865.6 L1517.5,865.5 L1516.5,865.0 L1515.4,865.0 L1514.4,865.3 L1513.4,865.0 L1512.3,865.0 L1511.3,864.1 L1510.2,864.0 L1509.2,864.4 L1508.2,864.8 L1507.1,865.1 L1506.1,864.9 L1505.1,865.4 L1504.0,864.9 L1503.0,863.8 L1501.9,864.2 L1500.9,863.4 L1499.9,864.8 L1498.8,864.7 L1497.8,864.3 L1496.8,864.2 L1495.7,862.5 L1494.7,861.2 L1493.7,860.7 L1492.6,859.6 L1491.6,862.9 L1490.5,863.6 L1489.5,863.8 L1488.5,865.1 L1487.4,865.3 L1486.4,864.7 L1485.4,865.1 L1484.3,864.6 L1483.3,864.6 L1482.2,864.3 L1481.2,863.8 L1480.2,864.4 L1479.1,864.9 L1478.1,863.6 L1477.1,863.7 L1476.0,863.3 L1475.0,862.6 L1474.0,860.2 L1472.9,851.6 L1471.9,861.6 L1470.8,864.3 L1469.8,863.9 L1468.8,865.1 L1467.7,864.8 L1466.7,863.7 L1465.7,863.2 L1464.6,863.3 L1463.6,863.6 L1462.5,863.0 L1461.5,863.0 L1460.5,862.9 L1459.4,862.6 L1458.4,863.2 L1457.4,863.6 L1456.3,864.1 L1455.3,864.1 L1454.2,863.7 L1453.2,865.1 L1452.2,865.6 L1451.1,864.7 L1450.1,864.8 L1449.1,866.0 L1448.0,865.2 L1447.0,865.1 L1446.0,865.0 L1444.9,865.0 L1443.9,864.7 L1442.8,864.5 L1441.8,865.7 L1440.8,864.6 L1439.7,864.9 L1438.7,865.2 L1437.7,865.8 L1436.6,864.9 L1435.6,865.7 L1434.5,864.9 L1433.5,865.3 L1432.5,865.7 L1431.4,865.2 L1430.4,866.6 L1429.4,865.4 L1428.3,865.7 L1427.3,866.0 L1426.2,864.1 L1425.2,865.5 L1424.2,865.0 L1423.1,863.9 L1422.1,863.1 L1421.1,862.6 L1420.0,862.7 L1419.0,862.8 L1418.0,863.6 L1416.9,862.7 L1415.9,862.0 L1414.8,862.5 L1413.8,860.4 L1412.8,861.0 L1411.7,860.7 L1410.7,861.4 L1409.7,861.8 L1408.6,861.1 L1407.6,861.5 L1406.5,862.0 L1405.5,862.3 L1404.5,861.4 L1403.4,860.7 L1402.4,859.1 L1401.4,859.2 L1400.3,858.7 L1399.3,857.9 L1398.2,856.2 L1397.2,854.1 L1396.2,851.0 L1395.1,846.1 L1394.1,806.5 L1393.1,846.5 L1392.0,862.7 L1391.0,866.3 L1390.0,866.4 L1388.9,865.8 L1387.9,866.9 L1386.8,866.0 L1385.8,865.3 L1384.8,864.2 L1383.7,866.6 L1382.7,865.1 L1381.7,860.3 L1380.6,839.7 L1379.6,861.1 L1378.5,864.9 L1377.5,865.4 L1376.5,863.8 L1375.4,863.8 L1374.4,864.1 L1373.4,864.0 L1372.3,865.6 L1371.3,867.4 L1370.2,864.0 L1369.2,864.7 L1368.2,864.3 L1367.1,864.2 L1366.1,864.1 L1365.1,860.3 L1364.0,841.3 L1363.0,792.8 L1362.0,840.7 L1360.9,860.2 L1359.9,864.2 L1358.8,863.3 L1357.8,864.0 L1356.8,865.5 L1355.7,865.0 L1354.7,864.0 L1353.7,858.2 L1352.6,815.9 L1351.6,681.9 L1350.5,817.0 L1349.5,858.1 L1348.5,863.3 L1347.4,865.0 L1346.4,865.3 L1345.4,866.5 L1344.3,866.2 L1343.3,865.6 L1342.3,866.3 L1341.2,865.5 L1340.2,867.3 L1339.1,865.7 L1338.1,866.2 L1337.1,865.6 L1336.0,865.1 L1335.0,865.8 L1334.0,864.6 L1332.9,865.8 L1331.9,866.3 L1330.8,865.7 L1329.8,864.7 L1328.8,865.4 L1327.7,864.9 L1326.7,864.7 L1325.7,865.5 L1324.6,865.9 L1323.6,865.3 L1322.5,866.3 L1321.5,865.8 L1320.5,865.9 L1319.4,865.4 L1318.4,865.0Z" fill="#d8000f" stroke="#d8000f" stroke-width="1.6" stroke-linejoin="round"/>
<path d="M1318.4,941.2 L1319.4,940.3 L1320.5,938.0 L1321.5,938.2 L1322.5,940.9 L1323.6,939.8 L1324.6,939.7 L1325.7,938.9 L1326.7,939.7 L1327.7,937.5 L1328.8,938.1 L1329.8,939.8 L1330.8,941.6 L1331.9,940.8 L1332.9,939.9 L1334.0,941.9 L1335.0,942.7 L1336.0,942.3 L1337.1,942.5 L1338.1,941.7 L1339.1,940.8 L1340.2,938.3 L1341.2,938.3 L1342.3,941.1 L1343.3,938.6 L1344.3,941.0 L1345.4,939.7 L1346.4,940.9 L1347.4,938.1 L1348.5,933.1 L1349.5,923.2 L1350.5,894.8 L1351.6,889.1 L1352.6,895.1 L1353.7,923.4 L1354.7,937.2 L1355.7,939.8 L1356.8,937.2 L1357.8,937.9 L1358.8,938.9 L1359.9,939.2 L1360.9,934.7 L1362.0,916.6 L1363.0,908.8 L1364.0,917.3 L1365.1,936.0 L1366.1,941.3 L1367.1,940.3 L1368.2,939.9 L1369.2,938.3 L1370.2,941.2 L1371.3,941.4 L1372.3,940.0 L1373.4,941.2 L1374.4,941.6 L1375.4,940.3 L1376.5,938.3 L1377.5,939.7 L1378.5,940.9 L1379.6,938.3 L1380.6,941.2 L1381.7,940.0 L1382.7,938.9 L1383.7,941.7 L1384.8,937.7 L1385.8,940.4 L1386.8,939.2 L1387.9,941.7 L1388.9,939.7 L1390.0,941.2 L1391.0,938.3 L1392.0,934.1 L1393.1,913.5 L1394.1,907.4 L1395.1,910.7 L1396.2,917.9 L1397.2,919.6 L1398.2,925.3 L1399.3,926.3 L1400.3,927.0 L1401.4,927.3 L1402.4,931.0 L1403.4,929.6 L1404.5,933.0 L1405.5,930.5 L1406.5,933.8 L1407.6,932.9 L1408.6,934.0 L1409.7,931.2 L1410.7,932.9 L1411.7,936.6 L1412.8,935.0 L1413.8,934.9 L1414.8,938.4 L1415.9,936.9 L1416.9,938.9 L1418.0,940.2 L1419.0,940.1 L1420.0,940.8 L1421.1,938.6 L1422.1,940.1 L1423.1,937.5 L1424.2,937.8 L1425.2,940.7 L1426.2,937.3 L1427.3,939.8 L1428.3,941.5 L1429.4,938.4 L1430.4,940.1 L1431.4,940.3 L1432.5,941.4 L1433.5,937.7 L1434.5,938.2 L1435.6,939.2 L1436.6,940.9 L1437.7,939.0 L1438.7,936.3 L1439.7,940.6 L1440.8,940.3 L1441.8,941.1 L1442.8,938.0 L1443.9,939.2 L1444.9,939.4 L1446.0,940.3 L1447.0,940.2 L1448.0,938.5 L1449.1,939.4 L1450.1,942.2 L1451.1,942.0 L1452.2,942.7 L1453.2,939.2 L1454.2,942.1 L1455.3,939.8 L1456.3,939.8 L1457.4,942.5 L1458.4,939.5 L1459.4,942.1 L1460.5,935.5 L1461.5,942.2 L1462.5,938.1 L1463.6,939.7 L1464.6,937.6 L1465.7,942.1 L1466.7,936.9 L1467.7,935.1 L1468.8,940.9 L1469.8,939.3 L1470.8,942.1 L1471.9,941.8 L1472.9,942.0 L1474.0,941.1 L1475.0,936.1 L1476.0,937.8 L1477.1,940.8 L1478.1,941.1 L1479.1,938.5 L1480.2,940.9 L1481.2,939.1 L1482.2,941.3 L1483.3,941.1 L1484.3,940.1 L1485.4,942.9 L1486.4,939.4 L1487.4,942.0 L1488.5,942.6 L1489.5,942.1 L1490.5,943.0 L1491.6,938.4 L1492.6,941.6 L1493.7,943.6 L1494.7,941.0 L1495.7,943.1 L1496.8,939.4 L1497.8,941.9 L1498.8,941.7 L1499.9,939.2 L1500.9,938.6 L1501.9,940.7 L1503.0,940.9 L1504.0,939.5 L1505.1,942.0 L1506.1,941.5 L1507.1,937.9 L1508.2,935.5 L1509.2,940.5 L1510.2,942.8 L1511.3,941.3 L1512.3,939.1 L1513.4,939.6 L1514.4,938.0 L1515.4,937.7 L1516.5,941.4 L1517.5,941.7 L1518.5,940.3 L1519.6,938.7 L1520.6,940.2 L1521.7,942.1 L1522.7,939.4 L1523.7,940.1 L1524.8,939.2 L1525.8,940.7 L1526.8,941.0 L1527.9,941.5 L1528.9,941.5 L1529.9,937.9 L1531.0,939.8 L1532.0,938.2 L1533.1,937.0 L1534.1,938.9 L1535.1,935.6 L1536.2,938.5 L1537.2,940.0 L1538.2,938.3 L1539.3,938.0 L1540.3,941.1 L1541.4,941.6 L1542.4,939.7 L1543.4,938.2 L1544.5,939.4 L1545.5,935.2 L1546.5,930.9 L1547.6,933.4 L1548.6,937.4 L1549.7,937.9 L1550.7,939.8 L1551.7,939.6 L1552.8,939.2 L1553.8,940.0 L1554.8,940.2 L1555.9,942.1 L1556.9,938.3 L1557.9,941.6 L1559.0,940.7 L1560.0,939.1 L1561.1,941.0 L1562.1,940.3 L1563.1,938.0 L1564.2,941.1 L1565.2,940.7 L1566.2,938.0 L1567.3,938.1 L1568.3,937.2 L1569.4,941.3 L1570.4,936.6 L1571.4,941.8 L1572.5,938.7 L1573.5,940.9 L1574.5,940.9 L1575.6,938.8 L1576.6,940.3 L1577.7,939.0 L1578.7,940.6 L1579.7,941.0 L1580.8,939.0 L1581.8,938.3 L1582.8,938.0 L1583.9,938.4 L1584.9,939.6 L1585.9,938.8 L1587.0,938.8 L1588.0,941.0 L1589.1,937.5 L1590.1,940.9 L1591.1,939.7 L1592.2,941.6 L1593.2,939.3 L1594.2,938.0 L1595.3,941.4 L1596.3,938.5 L1597.4,937.6 L1598.4,938.3 L1599.4,938.8 L1600.5,938.0 L1601.5,941.3 L1602.5,937.9 L1603.6,938.4 L1604.6,939.4 L1605.6,940.0 L1606.7,937.8 L1607.7,933.8 L1608.8,932.3 L1609.8,934.2 L1610.8,939.7 L1611.9,941.6 L1612.9,940.9 L1613.9,936.2 L1615.0,939.8 L1616.0,942.0 L1617.1,941.0 L1618.1,941.2 L1619.1,942.6 L1620.2,942.1 L1621.2,936.7 L1622.2,941.8 L1623.3,942.2 L1624.3,939.8 L1625.4,941.5 L1626.4,940.7 L1627.4,940.7 L1628.5,941.4 L1629.5,941.2 L1630.5,941.7 L1631.6,939.3 L1632.6,941.5 L1633.6,939.0 L1634.7,940.1 L1635.7,941.9 L1636.8,941.4 L1637.8,939.4 L1638.8,941.3 L1639.9,940.9 L1640.9,938.6 L1641.9,939.6 L1643.0,941.1 L1644.0,941.7 L1645.1,941.9 L1646.1,940.6 L1647.1,937.9 L1648.2,940.4 L1649.2,938.5 L1650.2,942.4 L1651.3,941.9 L1652.3,942.1 L1653.4,939.9 L1654.4,942.4 L1655.4,937.3 L1656.5,940.8 L1657.5,941.8 L1658.5,940.8 L1659.6,942.6 L1660.6,940.2 L1661.6,939.2 L1662.7,942.5 L1663.7,941.6 L1664.8,942.8 L1665.8,942.4 L1666.8,941.7 L1667.9,940.4 L1668.9,939.0 L1669.9,941.3 L1671.0,939.6 L1672.0,941.3 L1673.1,939.1 L1674.1,939.5 L1675.1,942.6 L1676.2,936.9 L1677.2,942.3 L1678.2,940.0 L1679.3,942.7 L1680.3,939.5 L1681.4,940.9 L1682.4,941.3 L1683.4,940.5 L1684.5,939.7 L1685.5,940.8 L1686.5,942.1 L1687.6,938.3 L1688.6,940.9 L1689.6,941.7 L1690.7,941.2 L1691.7,939.8 L1692.8,940.4 L1693.8,938.8 L1694.8,939.1 L1695.9,940.5 L1696.9,939.0 L1697.9,938.7 L1699.0,940.2 L1700.0,940.6 L1701.1,938.1 L1702.1,938.8 L1703.1,937.8 L1704.2,941.4 L1705.2,939.3 L1706.2,939.8 L1707.3,941.0 L1708.3,941.2 L1709.3,940.3 L1710.4,937.8 L1711.4,941.3 L1712.5,938.8 L1713.5,940.5 L1714.5,936.8 L1715.6,941.2 L1716.6,937.3 L1717.6,940.4 L1718.7,942.2 L1719.7,941.8 L1720.8,939.2 L1721.8,942.2 L1722.8,941.3 L1723.9,939.8 L1724.9,940.6 L1725.9,939.3 L1727.0,942.4 L1728.0,942.7 L1729.1,942.2 L1730.1,942.1 L1731.1,942.4 L1732.2,942.4 L1733.2,939.8 L1734.2,941.1 L1735.3,941.5 L1736.3,941.8 L1737.3,940.3 L1738.4,938.5 L1739.4,940.1 L1740.5,941.1 L1741.5,939.2 L1742.5,936.6 L1743.6,942.4 L1744.6,941.8 L1745.6,941.7 L1746.7,940.9 L1747.7,941.2 L1748.8,941.7 L1749.8,938.8 L1750.8,942.6 L1751.9,942.1 L1752.9,939.0 L1753.9,943.2 L1755.0,940.8 L1756.0,941.9 L1757.1,942.6 L1758.1,941.6 L1759.1,942.6 L1760.2,942.3 L1761.2,941.3 L1762.2,939.1 L1763.3,942.0 L1764.3,939.3 L1765.3,941.6 L1766.4,942.0 L1767.4,938.6 L1768.5,940.3 L1769.5,942.2 L1770.5,942.1 L1771.6,939.9 L1772.6,942.3 L1773.6,942.9 L1774.7,943.2 L1775.7,942.5 L1776.8,941.8 L1777.8,940.3 L1778.8,942.4 L1779.9,942.0 L1780.9,938.7 L1781.9,939.5 L1783.0,940.1 L1784.0,943.0 L1785.1,939.1 L1785.1,947.8 L1784.0,948.8 L1783.0,948.3 L1781.9,947.4 L1780.9,947.5 L1779.9,947.4 L1778.8,947.0 L1777.8,947.1 L1776.8,948.1 L1775.7,948.3 L1774.7,948.6 L1773.6,947.4 L1772.6,947.7 L1771.6,947.9 L1770.5,947.2 L1769.5,947.7 L1768.5,947.4 L1767.4,947.0 L1766.4,947.0 L1765.3,947.0 L1764.3,947.9 L1763.3,946.5 L1762.2,946.9 L1761.2,947.3 L1760.2,948.1 L1759.1,948.0 L1758.1,948.2 L1757.1,947.7 L1756.0,948.0 L1755.0,948.0 L1753.9,948.2 L1752.9,947.0 L1751.9,947.0 L1750.8,948.0 L1749.8,948.0 L1748.8,947.1 L1747.7,947.6 L1746.7,947.7 L1745.6,948.1 L1744.6,947.2 L1743.6,946.9 L1742.5,947.5 L1741.5,947.4 L1740.5,947.9 L1739.4,947.3 L1738.4,946.7 L1737.3,947.3 L1736.3,946.9 L1735.3,947.0 L1734.2,947.0 L1733.2,947.2 L1732.2,946.9 L1731.1,947.7 L1730.1,947.9 L1729.1,947.1 L1728.0,947.6 L1727.0,947.0 L1725.9,947.9 L1724.9,947.6 L1723.9,947.8 L1722.8,947.6 L1721.8,946.8 L1720.8,947.0 L1719.7,947.6 L1718.7,946.8 L1717.6,946.3 L1716.6,946.1 L1715.6,947.0 L1714.5,947.3 L1713.5,946.9 L1712.5,946.9 L1711.4,945.8 L1710.4,946.2 L1709.3,946.7 L1708.3,945.8 L1707.3,947.8 L1706.2,947.7 L1705.2,946.9 L1704.2,947.2 L1703.1,945.8 L1702.1,946.0 L1701.1,947.3 L1700.0,946.1 L1699.0,945.8 L1697.9,946.1 L1696.9,945.8 L1695.9,946.1 L1694.8,946.8 L1693.8,946.8 L1692.8,947.2 L1691.7,947.8 L1690.7,947.3 L1689.6,948.1 L1688.6,947.2 L1687.6,946.3 L1686.5,946.7 L1685.5,946.4 L1684.5,947.5 L1683.4,947.3 L1682.4,947.9 L1681.4,947.6 L1680.3,948.3 L1679.3,947.7 L1678.2,948.2 L1677.2,947.4 L1676.2,947.1 L1675.1,948.4 L1674.1,947.5 L1673.1,947.1 L1672.0,949.8 L1671.0,947.7 L1669.9,946.9 L1668.9,948.2 L1667.9,947.4 L1666.8,947.9 L1665.8,947.0 L1664.8,948.5 L1663.7,947.1 L1662.7,947.4 L1661.6,948.4 L1660.6,947.4 L1659.6,947.2 L1658.5,947.5 L1657.5,947.3 L1656.5,947.4 L1655.4,949.5 L1654.4,948.3 L1653.4,948.4 L1652.3,947.2 L1651.3,946.9 L1650.2,948.2 L1649.2,947.7 L1648.2,945.9 L1647.1,947.0 L1646.1,946.5 L1645.1,946.4 L1644.0,946.8 L1643.0,947.3 L1641.9,947.0 L1640.9,946.8 L1639.9,946.3 L1638.8,946.3 L1637.8,946.1 L1636.8,946.0 L1635.7,946.4 L1634.7,947.7 L1633.6,947.2 L1632.6,947.3 L1631.6,947.3 L1630.5,947.5 L1629.5,947.1 L1628.5,947.7 L1627.4,946.3 L1626.4,947.5 L1625.4,947.8 L1624.3,946.6 L1623.3,947.1 L1622.2,946.8 L1621.2,947.3 L1620.2,947.9 L1619.1,948.0 L1618.1,948.1 L1617.1,948.2 L1616.0,947.9 L1615.0,949.2 L1613.9,946.4 L1612.9,946.0 L1611.9,947.4 L1610.8,946.0 L1609.8,946.5 L1608.8,941.0 L1607.7,945.5 L1606.7,946.5 L1605.6,946.6 L1604.6,946.2 L1603.6,947.0 L1602.5,946.3 L1601.5,946.3 L1600.5,945.8 L1599.4,946.8 L1598.4,945.3 L1597.4,945.6 L1596.3,945.3 L1595.3,946.4 L1594.2,946.7 L1593.2,946.5 L1592.2,947.0 L1591.1,947.1 L1590.1,946.6 L1589.1,945.8 L1588.0,945.5 L1587.0,945.6 L1585.9,945.9 L1584.9,946.9 L1583.9,945.8 L1582.8,946.3 L1581.8,945.9 L1580.8,945.7 L1579.7,946.4 L1578.7,946.9 L1577.7,947.0 L1576.6,946.5 L1575.6,946.8 L1574.5,947.3 L1573.5,946.8 L1572.5,946.0 L1571.4,946.3 L1570.4,946.5 L1569.4,945.9 L1568.3,946.8 L1567.3,947.3 L1566.2,947.2 L1565.2,946.6 L1564.2,945.6 L1563.1,945.9 L1562.1,946.4 L1561.1,947.8 L1560.0,946.4 L1559.0,947.0 L1557.9,946.1 L1556.9,946.2 L1555.9,947.5 L1554.8,948.2 L1553.8,948.2 L1552.8,947.0 L1551.7,946.4 L1550.7,946.8 L1549.7,947.3 L1548.6,946.2 L1547.6,944.9 L1546.5,941.1 L1545.5,944.6 L1544.5,945.2 L1543.4,946.9 L1542.4,946.3 L1541.4,946.1 L1540.3,946.6 L1539.3,948.8 L1538.2,946.0 L1537.2,945.1 L1536.2,946.1 L1535.1,945.7 L1534.1,947.0 L1533.1,947.4 L1532.0,947.7 L1531.0,946.9 L1529.9,946.7 L1528.9,946.0 L1527.9,946.1 L1526.8,946.9 L1525.8,947.3 L1524.8,947.2 L1523.7,946.9 L1522.7,946.8 L1521.7,947.4 L1520.6,947.6 L1519.6,946.6 L1518.5,946.8 L1517.5,946.7 L1516.5,947.1 L1515.4,945.7 L1514.4,947.5 L1513.4,946.3 L1512.3,947.1 L1511.3,948.1 L1510.2,947.4 L1509.2,947.5 L1508.2,946.1 L1507.1,948.3 L1506.1,946.5 L1505.1,947.8 L1504.0,946.8 L1503.0,948.3 L1501.9,946.9 L1500.9,946.7 L1499.9,947.7 L1498.8,948.7 L1497.8,947.4 L1496.8,948.1 L1495.7,947.7 L1494.7,947.7 L1493.7,950.6 L1492.6,948.3 L1491.6,947.9 L1490.5,948.0 L1489.5,948.5 L1488.5,947.2 L1487.4,947.0 L1486.4,949.5 L1485.4,948.3 L1484.3,948.7 L1483.3,948.0 L1482.2,949.3 L1481.2,946.8 L1480.2,945.5 L1479.1,945.8 L1478.1,945.7 L1477.1,945.7 L1476.0,945.2 L1475.0,945.7 L1474.0,948.0 L1472.9,946.6 L1471.9,947.1 L1470.8,946.6 L1469.8,947.2 L1468.8,947.3 L1467.7,947.5 L1466.7,948.3 L1465.7,947.2 L1464.6,947.5 L1463.6,948.2 L1462.5,946.6 L1461.5,947.1 L1460.5,947.7 L1459.4,947.8 L1458.4,947.5 L1457.4,947.5 L1456.3,947.6 L1455.3,947.6 L1454.2,947.0 L1453.2,947.8 L1452.2,948.5 L1451.1,947.1 L1450.1,947.5 L1449.1,946.9 L1448.0,946.3 L1447.0,945.8 L1446.0,945.9 L1444.9,946.2 L1443.9,946.0 L1442.8,947.3 L1441.8,948.5 L1440.8,946.7 L1439.7,946.5 L1438.7,945.4 L1437.7,945.1 L1436.6,945.9 L1435.6,945.4 L1434.5,946.0 L1433.5,945.7 L1432.5,946.0 L1431.4,945.9 L1430.4,945.7 L1429.4,946.1 L1428.3,946.6 L1427.3,945.3 L1426.2,946.5 L1425.2,946.5 L1424.2,945.7 L1423.1,945.0 L1422.1,945.6 L1421.1,945.5 L1420.0,945.5 L1419.0,946.6 L1418.0,944.9 L1416.9,945.1 L1415.9,945.8 L1414.8,944.1 L1413.8,944.0 L1412.8,943.7 L1411.7,943.0 L1410.7,943.5 L1409.7,942.6 L1408.6,942.5 L1407.6,941.1 L1406.5,940.5 L1405.5,940.4 L1404.5,939.2 L1403.4,938.5 L1402.4,937.8 L1401.4,936.2 L1400.3,934.4 L1399.3,934.6 L1398.2,932.0 L1397.2,930.6 L1396.2,939.3 L1395.1,938.0 L1394.1,917.9 L1393.1,938.9 L1392.0,945.6 L1391.0,947.4 L1390.0,946.9 L1388.9,947.1 L1387.9,948.0 L1386.8,947.4 L1385.8,946.8 L1384.8,946.5 L1383.7,947.5 L1382.7,946.6 L1381.7,946.2 L1380.6,947.5 L1379.6,947.4 L1378.5,946.3 L1377.5,946.7 L1376.5,948.6 L1375.4,946.4 L1374.4,946.6 L1373.4,946.7 L1372.3,947.0 L1371.3,947.6 L1370.2,946.2 L1369.2,946.2 L1368.2,946.8 L1367.1,946.6 L1366.1,947.6 L1365.1,946.6 L1364.0,940.1 L1363.0,921.7 L1362.0,942.3 L1360.9,944.1 L1359.9,944.7 L1358.8,945.2 L1357.8,946.5 L1356.8,945.3 L1355.7,945.6 L1354.7,945.1 L1353.7,943.3 L1352.6,931.1 L1351.6,901.3 L1350.5,930.0 L1349.5,942.7 L1348.5,945.0 L1347.4,946.0 L1346.4,946.8 L1345.4,946.7 L1344.3,946.9 L1343.3,946.8 L1342.3,947.0 L1341.2,946.3 L1340.2,946.2 L1339.1,946.7 L1338.1,946.7 L1337.1,947.5 L1336.0,948.5 L1335.0,948.5 L1334.0,946.9 L1332.9,947.0 L1331.9,946.3 L1330.8,946.2 L1329.8,946.5 L1328.8,946.1 L1327.7,946.7 L1326.7,947.7 L1325.7,946.6 L1324.6,945.3 L1323.6,945.4 L1322.5,945.5 L1321.5,945.5 L1320.5,945.7 L1319.4,946.2 L1318.4,945.7Z" fill="#0d2d88" stroke="#0d2d88" stroke-width="1.6" stroke-linejoin="round"/>
</g>
<rect x="1318.20" y="589.10" width="466.80" height="395.00" fill="none" stroke="#000" stroke-width="3.6" />
<line x1="1370.25" y1="984.10" x2="1370.25" y2="976.70" stroke="#000" stroke-width="3.3" />
<line x1="1473.95" y1="984.10" x2="1473.95" y2="976.70" stroke="#000" stroke-width="3.3" />
<line x1="1577.65" y1="984.10" x2="1577.65" y2="976.70" stroke="#000" stroke-width="3.3" />
<line x1="1681.35" y1="984.10" x2="1681.35" y2="976.70" stroke="#000" stroke-width="3.3" />
<line x1="1422.10" y1="984.10" x2="1422.10" y2="980.50" stroke="#000" stroke-width="3.3" />
<line x1="1525.80" y1="984.10" x2="1525.80" y2="980.50" stroke="#000" stroke-width="3.3" />
<line x1="1629.50" y1="984.10" x2="1629.50" y2="980.50" stroke="#000" stroke-width="3.3" />
<line x1="1733.20" y1="984.10" x2="1733.20" y2="980.50" stroke="#000" stroke-width="3.3" />
<text x="1354.47" y="1014.43" font-size="28.20" font-weight="bold" fill="#000">20</text>
<text x="1458.31" y="1014.43" font-size="28.20" font-weight="bold" fill="#000">30</text>
<text x="1562.15" y="1014.43" font-size="28.20" font-weight="bold" fill="#000">40</text>
<text x="1665.64" y="1014.43" font-size="28.20" font-weight="bold" fill="#000">50</text>
<text x="1769.27" y="1014.43" font-size="28.20" font-weight="bold" fill="#000">60</text>
<text x="1440.50" y="1041.50" font-size="28.55" font-weight="bold" fill="#000">2-Theta (degree)</text>
<text x="1235.21" y="597.79" font-size="37.78" font-weight="bold" fill="#000">(f)</text>
<text transform="translate(1292.47,886.64) rotate(-90)" font-size="28.33" font-weight="bold" fill="#000">Intensity (a.u.)</text>
<line x1="1608.90" y1="653.30" x2="1668.80" y2="653.30" stroke="#d8000f" stroke-width="2.4" />
<line x1="1608.90" y1="687.70" x2="1668.80" y2="687.70" stroke="#0d2d88" stroke-width="2.4" />
<text x="1680.23" y="663.17" font-size="28.74" font-weight="bold" fill="#000">Before</text>
<text x="1681.39" y="697.58" font-size="28.50" font-weight="bold" fill="#000">After</text>
</svg>
</body></html>
